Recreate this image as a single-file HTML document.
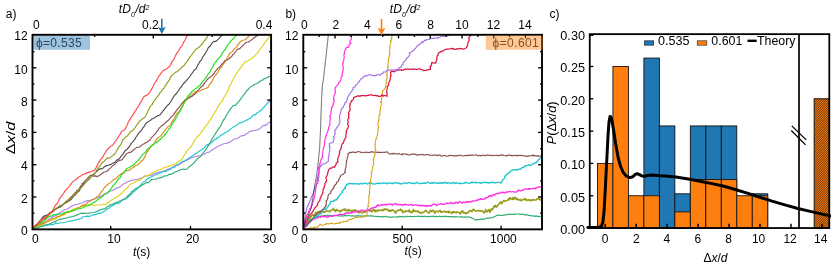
<!DOCTYPE html>
<html><head><meta charset="utf-8"><title>Figure</title>
<style>
html,body{margin:0;padding:0;background:#fff;}
body{width:831px;height:268px;overflow:hidden;font-family:"Liberation Sans",sans-serif;}
svg{display:block;opacity:0.999;will-change:transform;}
</style></head><body>
<svg width="831" height="268" viewBox="0 0 831 268">
<defs>
<clipPath id="ca"><rect x="33" y="35" width="238" height="194"/></clipPath>
<clipPath id="cb"><rect x="304" y="35" width="237.5" height="194"/></clipPath>
<pattern id="hatch" patternUnits="userSpaceOnUse" width="1.6" height="1.6" patternTransform="rotate(-45)"><rect width="1.6" height="1.6" fill="#ff7f0e"/><rect width="1.6" height="0.64" fill="#4a2404"/></pattern>
</defs>
<rect width="831" height="268" fill="#fff"/>
<polyline points="32.5,229.0 33.9,228.5 35.3,227.5 36.7,226.3 38.1,225.2 39.5,224.6 40.9,223.6 42.3,222.6 43.7,222.2 45.1,221.7 46.5,221.2 47.9,220.1 49.2,219.3 50.6,218.5 51.9,217.1 53.3,216.6 54.6,215.9 55.9,215.8 57.3,214.7 58.6,213.5 60.0,212.9 61.3,211.8 62.6,211.3 64.0,210.3 65.3,209.6 66.7,209.2 68.0,208.6 69.4,207.7 70.8,206.6 72.1,206.1 73.5,205.4 74.8,205.0 76.4,204.5 78.0,204.3 79.6,203.5 81.2,203.0 82.8,202.7 84.4,201.6 86.0,201.1 87.6,200.5 89.2,200.9 90.8,200.2 92.4,199.8 94.0,199.4 95.6,198.6 97.2,197.6 98.6,197.4 100.0,196.5 101.4,196.1 102.8,194.9 104.2,194.1 105.6,194.0 107.0,193.7 108.4,192.3 109.8,191.2 111.2,190.7 112.6,190.4 114.0,189.7 115.3,189.1 116.7,188.0 118.1,187.6 119.5,187.2 120.9,186.1 122.4,184.7 123.8,183.8 125.3,183.4 126.7,182.0 128.2,181.6 129.7,180.9 131.2,180.5 132.7,180.1 134.2,179.7 135.7,179.7 137.2,179.3 138.7,179.2 140.1,178.5 141.6,177.8 143.1,177.5 144.6,176.1 146.1,176.1 147.6,176.0 149.1,175.3 150.6,175.3 152.1,174.9 153.6,173.8 155.1,173.5 156.6,172.9 158.1,172.5 159.5,172.1 161.0,172.1 162.5,171.5 164.0,170.9 165.5,170.5 167.0,169.2 168.5,169.3 170.0,168.3 171.5,168.1 173.0,166.9 174.5,166.0 175.9,165.4 177.4,165.5 178.9,164.8 180.4,163.7 181.9,162.8 183.4,161.7 184.9,161.1 186.4,160.2 187.9,159.9 189.4,158.6 190.9,158.1 192.4,157.4 193.9,156.8 195.4,156.7 196.9,156.3 198.4,155.9 200.0,155.8 201.5,155.5 203.1,154.3 204.6,154.1 206.2,153.0 207.6,152.3 209.1,152.2 210.5,151.1 211.9,150.0 213.4,149.2 214.9,148.2 216.4,147.3 217.9,146.2 219.4,145.7 220.9,145.1 222.4,144.3 223.9,143.8 225.4,143.5 226.9,143.2 228.4,142.6 229.9,142.1 231.4,141.1 232.9,139.9 234.4,139.1 235.8,138.8 237.3,138.4 238.8,137.5 240.3,136.4 241.8,135.8 243.3,135.6 244.8,135.1 246.3,133.7 247.8,132.9 249.3,131.8 250.8,131.1 252.2,130.9 253.7,130.5 255.2,130.4 256.7,130.3 258.2,129.4 259.7,128.7 261.2,127.3 262.7,125.9 264.2,125.3 265.7,125.3 267.1,124.2 268.6,122.7 270.0,121.9 271.5,121.0" fill="none" stroke="#b583e6" stroke-width="1.15" stroke-linejoin="round" clip-path="url(#ca)" />
<polyline points="32.5,229.3 34.0,228.5 35.6,228.2 37.1,227.9 38.6,227.8 40.2,226.8 41.7,226.5 43.2,226.1 44.7,225.6 46.3,225.3 47.8,225.1 49.3,224.9 50.9,224.5 52.4,224.6 54.0,224.2 55.6,222.9 57.2,223.5 58.8,223.2 60.4,222.8 62.0,222.7 63.6,222.6 65.2,222.3 66.8,221.7 68.4,221.5 70.0,220.7 71.6,221.2 73.2,220.4 74.8,220.1 76.4,219.7 78.0,219.4 79.6,218.8 81.2,218.6 82.8,216.8 84.4,216.7 86.0,216.4 87.6,216.1 89.2,216.5 90.8,215.8 92.4,215.5 94.0,214.5 95.6,214.6 97.2,213.9 98.7,212.9 100.2,213.4 101.7,212.8 103.1,211.9 104.6,211.1 106.1,209.8 107.5,208.7 108.9,208.3 110.3,206.8 111.7,206.4 113.1,205.1 114.5,204.7 115.9,203.6 117.3,203.7 118.8,203.2 120.3,202.1 121.8,200.6 123.3,199.8 124.8,199.3 126.3,198.4 127.5,197.6 128.7,196.9 129.8,195.7 131.0,194.3 132.2,193.5 133.3,192.2 134.5,191.3 135.7,190.0 136.8,189.5 137.9,188.1 139.1,186.5 140.2,185.6 141.3,184.4 142.4,183.1 143.7,182.1 145.1,181.4 146.4,179.5 147.8,178.7 149.1,177.7 150.8,176.9 152.4,176.5 154.1,175.1 155.8,174.7 157.3,174.0 158.8,173.5 160.3,172.9 161.8,172.3 163.3,171.6 164.8,171.3 166.3,171.3 167.8,170.6 169.2,169.8 170.7,169.0 172.2,167.8 173.7,167.2 175.0,166.9 176.4,165.2 177.7,164.5 179.1,163.9 180.4,162.9 181.8,162.1 183.1,161.4 184.5,161.0 185.8,160.1 187.2,159.2 188.5,158.2 189.9,157.4 191.2,156.5 192.6,155.7 193.9,154.6 195.2,153.9 196.6,153.4 197.9,152.2 199.3,151.3 200.6,150.5 201.9,149.4 203.1,148.6 204.4,147.6 205.6,146.1 206.9,144.9 208.1,144.4 209.4,143.7 210.6,143.0 211.9,142.0 213.2,141.0 214.5,139.5 215.8,139.3 217.0,138.0 218.3,137.6 219.6,136.3 220.9,135.3 222.2,134.6 223.5,133.7 224.8,132.7 226.0,132.3 227.3,131.7 228.6,130.8 229.9,129.7 231.2,128.6 232.4,127.6 233.7,126.7 235.0,126.0 236.3,125.5 237.5,124.6 238.8,123.4 240.3,122.6 241.8,122.4 243.3,121.7 244.8,120.9 246.3,120.2 247.8,119.6 249.1,118.7 250.3,118.1 251.6,117.3 252.9,115.2 254.2,114.6 255.4,114.9 256.7,113.3 257.9,112.3 259.2,111.7 260.4,110.5 261.7,109.9 262.9,108.2 264.2,106.8 265.2,105.8 266.3,104.6 267.3,103.3 268.4,102.6 269.4,101.7 270.5,100.6 271.5,99.5" fill="none" stroke="#1fc4cf" stroke-width="1.15" stroke-linejoin="round" clip-path="url(#ca)" />
<polyline points="32.5,228.5 34.0,228.5 35.6,227.5 37.1,227.5 38.6,226.8 40.2,226.2 41.7,226.4 43.2,225.8 44.7,225.1 46.3,224.8 47.8,224.6 49.3,223.9 50.9,223.5 52.4,222.5 54.0,221.9 55.6,221.4 57.2,220.5 58.8,219.8 60.4,219.1 62.0,218.9 63.6,218.7 65.2,218.3 66.7,218.1 68.3,217.3 69.8,217.1 71.4,216.8 73.0,216.7 74.5,215.9 76.1,215.4 77.6,214.4 79.2,214.1 80.7,213.4 82.2,213.1 83.7,213.7 85.2,212.8 86.7,213.2 88.2,213.2 89.7,212.9 91.2,212.8 92.7,212.7 94.3,212.5 95.9,211.8 97.5,211.0 99.1,210.4 100.7,209.6 102.3,209.4 103.9,208.7 105.3,208.6 106.7,207.2 108.1,206.4 109.5,205.6 110.9,204.5 112.3,204.9 113.7,203.4 115.1,203.0 116.5,202.3 117.9,202.4 119.3,201.0 120.7,200.8 122.1,199.9 123.5,199.2 124.9,198.4 126.3,198.0 127.3,196.5 128.3,195.5 129.3,194.5 130.4,194.1 131.4,191.8 132.4,191.4 133.4,190.5 134.7,189.3 136.1,188.6 137.4,187.5 138.8,187.3 140.1,186.4 141.5,185.5 142.8,184.7 144.2,183.9 145.5,183.2 146.9,182.2 148.4,182.6 149.9,181.1 151.4,179.5 152.8,179.5 154.3,179.2 155.8,179.1 157.3,178.5 158.8,178.0 160.3,177.6 161.8,177.4 163.3,176.5 164.8,175.8 166.3,176.0 167.8,175.3 169.2,174.2 170.7,174.4 172.2,173.8 173.7,172.7 175.4,171.7 177.1,171.3 178.7,170.5 180.4,169.7 182.1,169.2 183.8,169.1 185.5,169.5 187.2,169.0 188.3,167.5 189.4,166.8 190.6,165.8 191.7,165.0 192.8,164.2 193.9,162.8 195.0,161.5 196.2,160.3 197.3,158.8 198.4,158.0 199.5,157.4 200.6,156.1 201.7,154.8 202.8,153.5 203.9,152.1 204.8,150.7 205.8,149.4 206.7,148.0 207.6,146.7 208.6,145.1 209.5,144.2 210.3,142.9 211.1,141.1 211.8,139.0 212.6,138.0 213.4,137.2 214.2,135.6 215.1,134.2 215.9,132.8 216.7,131.9 217.6,130.2 218.4,129.3 219.2,127.9 220.1,126.8 220.9,125.4 221.7,123.9 222.4,122.0 223.2,120.6 223.9,119.4 224.7,118.5 225.4,117.2 226.2,115.6 226.9,114.5 227.7,113.5 228.4,112.0 229.5,110.2 230.6,108.6 231.7,107.5 232.8,106.1 234.3,105.4 235.8,105.2 236.7,103.8 237.7,102.4 238.6,101.7 239.6,100.7 240.5,99.1 241.4,97.9 242.4,96.8 243.3,95.3 244.3,94.0 245.3,93.1 246.3,91.1 247.3,90.2 248.3,89.3 249.3,88.2 250.8,86.7 252.3,86.0 253.7,84.9 255.2,84.3 256.7,83.6 258.2,82.7 259.7,81.5 261.2,80.5 262.7,80.0 264.2,78.8 265.7,78.2 267.1,77.6 268.6,76.6 270.0,76.7 271.5,75.0" fill="none" stroke="#2fae74" stroke-width="1.15" stroke-linejoin="round" clip-path="url(#ca)" />
<polyline points="32.5,228.5 34.0,228.0 35.4,227.1 36.9,226.6 38.4,226.2 39.8,225.5 41.3,225.2 42.8,223.9 44.2,223.2 45.7,222.2 47.2,221.4 48.6,220.8 50.1,220.3 51.6,219.9 53.1,219.4 54.6,219.5 56.1,218.8 57.6,217.2 59.1,216.7 60.6,215.9 62.1,215.1 63.6,215.1 65.0,214.2 66.4,212.8 67.8,212.4 69.2,211.7 70.6,210.7 72.0,209.9 73.4,209.3 74.8,208.8 76.2,208.3 77.6,207.9 79.0,208.0 80.4,207.0 81.8,206.1 83.2,205.6 84.6,205.5 86.0,204.6 87.8,205.4 89.6,204.9 91.3,204.9 93.1,205.3 94.9,205.3 96.5,205.0 98.1,205.0 99.7,205.0 101.3,204.7 102.9,204.2 104.5,204.4 106.1,204.0 107.4,202.9 108.8,202.3 110.1,200.9 111.5,200.1 112.8,199.4 114.1,198.6 115.5,197.6 116.8,197.1 118.2,196.2 119.5,195.4 120.5,194.0 121.5,193.6 122.5,192.2 123.5,191.5 124.5,190.3 125.6,189.1 126.7,188.2 127.9,187.2 129.0,186.1 130.1,184.4 131.4,183.7 132.8,183.2 134.1,182.5 135.5,181.8 136.8,181.2 138.4,180.4 139.9,180.1 141.5,178.5 143.0,177.7 144.6,176.1 146.1,176.0 147.6,175.4 149.1,175.3 150.6,174.2 152.1,172.7 153.6,172.6 155.2,171.4 156.7,170.5 158.3,170.0 159.8,169.8 161.4,169.0 163.0,168.5 164.5,167.1 166.1,167.3 167.6,166.6 169.2,165.9 170.9,165.5 172.6,164.9 174.3,164.3 176.0,163.4 177.4,162.3 178.8,161.4 180.2,160.6 181.6,159.3 182.5,157.9 183.4,156.6 184.2,155.4 185.1,154.0 186.0,152.5 186.9,151.0 187.9,150.1 188.8,148.8 189.7,147.4 190.7,147.2 191.6,145.7 192.5,144.2 193.5,142.6 194.4,140.7 195.3,139.7 196.3,138.2 197.2,136.8 198.3,135.8 199.5,134.6 200.6,133.1 201.6,131.6 202.6,131.0 203.6,129.5 204.5,127.6 205.5,126.6 206.5,125.2 207.5,123.9 208.3,122.7 209.1,121.3 210.0,120.6 210.8,119.0 211.6,117.5 212.4,116.4 213.3,114.7 214.1,113.6 214.9,112.1 215.7,111.1 216.6,109.2 217.4,108.0 218.2,106.1 219.1,104.8 219.9,103.6 220.7,102.6 221.6,101.9 222.4,101.0 223.2,98.7 224.1,96.9 224.9,96.0 225.8,94.6 226.6,92.6 227.5,91.4 228.3,89.6 228.9,87.9 229.6,86.2 230.2,84.8 230.9,84.3 231.5,82.7 232.2,81.0 232.8,80.2 233.6,78.4 234.4,76.9 235.2,75.4 236.0,74.3 236.8,72.8 237.6,72.1 238.4,70.5 239.5,69.3 240.6,67.9 241.8,66.1 242.9,64.5 244.0,63.3 245.3,61.7 246.7,61.2 248.0,60.6 249.4,59.9 250.7,59.0 252.1,58.0 253.5,56.8 254.9,55.9 256.3,54.1 257.2,53.3 258.2,51.7 259.1,50.7 260.0,49.2 261.0,47.9 261.9,46.4 263.0,45.6 264.1,43.7 265.2,42.0 266.3,40.9 267.4,39.6 268.4,38.1 269.4,36.2 270.5,35.0" fill="none" stroke="#e0d21f" stroke-width="1.15" stroke-linejoin="round" clip-path="url(#ca)" />
<polyline points="32.5,228.1 33.9,227.2 35.3,227.1 36.7,225.7 38.1,225.4 39.5,224.2 40.9,224.4 42.3,223.9 43.7,223.8 45.1,222.8 46.5,222.3 47.9,221.5 49.3,220.5 50.7,220.0 52.1,218.9 53.5,218.3 54.9,218.0 56.3,217.3 57.7,216.5 59.1,216.6 60.5,215.7 62.0,214.7 63.4,214.2 64.8,213.3 66.2,212.6 67.7,212.0 69.1,212.2 70.5,211.4 71.9,210.7 73.4,210.2 74.8,210.1 76.3,208.9 77.8,207.8 79.3,207.9 80.8,206.3 82.2,205.4 83.7,204.9 85.2,204.9 86.7,203.5 88.2,201.8 89.5,201.5 90.8,200.6 92.1,199.8 93.3,199.3 94.6,198.6 95.9,197.8 97.2,196.8 98.2,196.1 99.2,195.2 100.2,193.6 101.2,192.0 102.1,191.0 103.1,189.8 104.1,188.0 105.1,186.7 106.1,185.9 107.4,184.8 108.7,183.7 110.0,182.9 111.2,181.9 112.5,180.9 113.8,179.3 115.1,179.2 116.4,178.1 117.7,176.5 119.0,175.8 120.3,174.7 121.6,173.5 122.9,172.7 124.0,172.2 125.1,170.8 127.0,170.6 128.8,170.5 130.7,169.2 132.1,168.0 133.4,167.5 134.8,166.0 136.1,165.2 137.5,165.1 138.6,164.2 139.7,163.1 140.9,161.1 142.0,160.9 143.1,159.8 143.9,158.4 144.8,156.9 145.6,154.7 146.4,152.9 147.3,151.3 148.3,150.9 149.2,149.1 150.2,147.7 151.3,146.4 152.4,145.3 153.6,144.1 154.7,142.8 155.8,140.9 156.9,138.7 158.0,138.0 159.2,137.1 160.3,136.4 161.4,135.1 162.5,133.5 163.6,132.4 164.7,130.5 165.9,129.0 167.0,127.6 168.1,126.6 169.0,126.2 170.0,125.0 170.9,123.8 171.8,122.3 172.8,120.9 173.7,119.3 174.6,117.8 175.6,115.7 176.5,114.3 177.4,112.9 178.4,112.3 179.3,111.3 180.1,110.2 180.8,109.1 181.6,107.2 182.3,106.0 183.1,104.9 183.8,103.0 184.9,102.0 186.0,100.6 187.2,98.7 188.3,97.8 189.4,96.4 190.8,95.5 192.2,94.3 193.6,93.4 195.0,91.5 196.7,92.0 198.3,91.8 200.0,90.9 201.7,89.9 203.3,89.3 204.9,88.8 206.5,88.1 208.1,87.4 209.0,85.2 209.9,83.7 210.8,83.1 211.7,81.9 212.6,79.9 213.4,78.5 214.2,77.0 215.0,75.7 215.8,75.1 216.6,73.8 217.4,73.0 218.2,71.7 219.1,69.7 220.1,68.3 221.0,68.0 221.9,66.3 222.9,64.6 223.8,63.8 224.6,62.5 225.4,61.1 226.2,60.3 227.0,58.2 227.8,57.2 228.6,55.5 229.4,53.9 230.5,52.8 231.6,52.3 232.8,51.2 233.9,49.4 235.0,48.2 235.9,47.7 236.8,46.7 237.7,44.8 238.6,44.4 239.5,42.6 240.9,41.2 242.3,40.5 243.7,40.0 245.1,39.7 246.5,38.7 247.9,37.1 249.3,35.7 250.7,34.6" fill="none" stroke="#d98e1f" stroke-width="1.15" stroke-linejoin="round" clip-path="url(#ca)" />
<polyline points="32.5,228.7 33.7,226.8 35.0,225.6 36.2,224.7 37.5,224.2 38.7,222.9 40.0,221.1 41.2,220.2 42.4,218.9 43.7,218.5 44.9,217.4 46.2,217.0 47.4,215.7 48.7,214.2 49.9,212.8 51.2,211.9 52.4,211.3 53.7,210.9 54.9,210.1 56.2,208.9 57.5,208.3 58.8,207.0 60.0,206.5 61.3,205.5 62.6,205.0 63.8,204.1 65.1,202.9 66.3,201.3 67.6,200.4 68.9,199.3 70.1,197.9 71.4,196.6 72.5,195.9 73.6,194.4 74.7,193.2 75.9,192.3 77.0,190.3 78.1,189.7 79.2,188.6 80.3,186.8 81.5,185.1 82.6,183.4 83.7,182.7 84.9,180.5 86.0,179.9 87.1,178.9 88.2,177.6 89.3,176.4 90.4,175.3 92.1,175.5 93.8,176.1 95.5,175.9 97.2,176.6 98.5,176.0 99.9,174.9 101.2,174.2 102.6,173.0 103.9,172.2 105.2,171.7 106.6,171.5 107.9,170.5 109.1,169.2 110.3,168.1 111.5,166.9 112.7,165.5 113.9,165.2 115.3,163.7 116.7,162.4 118.1,161.1 119.5,160.4 120.7,160.3 121.9,159.8 123.1,158.3 124.3,156.7 125.5,155.2 126.7,153.5 128.0,153.1 129.4,152.3 130.7,152.3 132.1,151.2 133.4,150.0 135.1,148.6 136.8,147.4 138.4,147.2 140.1,146.7 141.5,145.4 142.8,144.2 144.2,143.7 145.5,142.8 146.9,142.2 148.6,141.1 150.2,139.7 151.1,138.0 152.1,137.1 153.0,136.1 153.9,135.0 154.9,134.1 155.8,133.1 156.9,131.4 158.0,130.2 159.2,128.0 160.3,127.1 161.4,125.8 162.8,125.1 164.2,124.2 165.6,122.5 167.0,121.3 168.1,120.6 169.2,119.2 170.4,118.1 171.5,116.7 172.6,115.9 173.7,114.6 174.8,112.9 176.0,111.2 177.1,109.3 178.2,108.7 179.1,107.4 180.1,106.0 181.0,104.7 181.9,103.3 182.9,102.5 183.8,101.4 185.2,99.7 186.6,99.2 188.0,98.5 189.4,97.7 190.8,96.7 192.2,96.2 193.6,95.0 195.0,94.1 196.0,93.0 197.1,91.1 198.1,90.6 199.2,89.2 200.3,87.7 201.4,86.7 202.6,86.1 203.7,84.2 204.8,82.6 205.9,81.6 207.0,79.8 208.2,78.5 209.3,77.7 210.4,77.0 211.5,76.1 212.6,75.0 213.7,73.9 214.8,72.2 216.0,70.7 217.1,69.3 218.2,67.9 219.3,67.3 220.4,66.3 221.6,64.3 222.7,63.5 223.8,62.0 224.9,60.6 226.2,60.3 227.6,59.6 228.9,58.7 230.3,57.5 231.6,56.8 232.7,54.8 233.9,53.9 235.0,52.4 236.1,51.0 237.3,49.4 238.4,49.1 239.7,48.6 241.1,47.5 242.4,45.9 243.8,44.7 245.1,43.2 246.4,42.3 247.8,42.0 249.1,41.6 250.5,40.6 251.8,39.7 253.1,38.5 254.5,37.6 255.8,36.5 257.2,35.7 258.5,34.5" fill="none" stroke="#8a5050" stroke-width="1.15" stroke-linejoin="round" clip-path="url(#ca)" />
<polyline points="32.5,228.4 33.7,227.8 35.0,226.8 36.2,225.9 37.5,224.7 38.7,224.0 40.0,223.6 41.2,222.9 42.5,222.2 43.7,221.1 45.0,220.1 46.3,219.1 47.6,217.4 48.8,216.9 50.1,216.1 51.6,216.0 53.1,215.1 54.6,214.5 56.1,214.3 57.6,214.3 59.1,214.5 60.6,214.0 62.1,213.7 63.6,212.9 65.1,212.5 66.6,212.1 68.1,211.3 69.6,211.5 71.1,211.2 72.6,211.0 74.1,210.1 75.5,209.4 77.0,209.0 78.5,208.7 80.0,208.6 81.5,208.3 83.0,207.5 84.5,206.6 86.0,206.0 87.4,206.0 88.9,205.1 90.4,204.7 91.7,204.0 93.0,202.7 94.3,202.1 95.5,201.8 96.8,200.2 98.1,199.5 99.4,198.8 100.7,197.5 102.0,196.8 103.3,195.7 104.5,194.1 105.8,193.5 107.1,192.6 108.4,191.8 109.5,190.8 110.6,189.4 111.7,187.9 112.8,186.0 114.0,185.1 115.1,183.6 116.2,182.2 117.3,180.6 118.2,179.3 119.1,178.2 120.1,177.7 121.0,175.7 121.9,174.2 122.8,173.5 123.8,173.0 124.7,171.9 125.6,169.8 127.0,168.3 128.4,168.0 129.8,167.2 131.2,166.1 132.3,165.7 133.4,165.0 134.6,163.8 135.7,162.7 136.8,161.6 137.9,160.7 139.0,159.3 140.2,157.9 141.3,156.5 142.4,154.4 143.5,153.8 144.6,152.9 145.8,151.7 146.9,149.7 148.0,148.5 149.4,147.9 150.8,146.2 152.2,145.3 153.6,144.7 155.0,143.0 156.4,142.6 157.8,141.5 159.2,140.2 160.3,139.2 161.4,138.3 162.6,137.1 163.7,136.4 164.8,134.9 165.7,133.4 166.7,132.5 167.6,131.1 168.5,129.4 169.5,128.5 170.4,127.6 171.2,126.0 172.0,124.1 172.8,122.9 173.6,121.7 174.4,120.4 175.2,119.7 176.0,118.0 176.8,117.0 177.6,115.0 178.4,113.4 179.2,112.3 180.0,111.3 180.8,110.0 181.6,108.4 182.3,106.8 183.1,105.2 183.8,103.8 184.5,102.1 185.3,100.7 186.0,99.3 186.8,97.8 187.7,96.6 188.6,95.2 189.4,94.4 190.8,93.0 192.2,91.5 193.6,90.1 195.0,89.0 196.3,88.3 197.6,87.0 198.8,86.0 200.1,85.5 201.4,83.3 202.3,81.7 203.3,80.8 204.2,79.8 205.1,78.6 206.1,77.1 207.0,76.1 207.8,74.8 208.6,73.3 209.4,72.9 210.2,71.4 211.0,69.6 211.8,68.3 212.6,66.9 213.5,65.6 214.5,63.3 215.4,62.2 216.3,61.6 217.3,59.9 218.2,58.8 219.1,58.0 220.1,56.9 221.0,56.0 221.9,53.8 222.9,52.4 223.8,51.1 224.7,50.0 225.6,49.0 226.5,46.6 227.4,45.9 228.3,44.1 229.4,43.1 230.6,41.2 231.7,40.1 232.8,39.3 234.0,37.8 235.2,36.6 236.5,35.6 237.7,34.0" fill="none" stroke="#1fe01f" stroke-width="1.15" stroke-linejoin="round" clip-path="url(#ca)" />
<polyline points="32.5,228.6 33.6,228.3 34.7,227.2 35.8,226.0 36.9,224.7 38.0,223.4 39.0,222.2 40.1,220.8 41.2,219.3 42.3,217.8 43.4,216.4 44.7,215.9 45.9,215.4 47.2,215.2 48.5,214.3 49.7,213.3 51.0,212.6 52.2,211.5 53.5,209.9 54.8,209.6 56.0,208.6 57.3,207.9 58.5,207.0 59.8,207.2 61.1,206.4 62.3,205.3 63.6,203.7 64.9,203.4 66.3,202.2 67.6,202.0 69.0,200.6 70.3,200.1 71.4,199.2 72.5,197.6 73.6,196.4 74.8,195.2 75.9,194.3 77.0,192.7 78.1,191.7 79.1,191.1 80.1,188.9 81.1,187.4 82.1,186.4 83.1,184.9 84.1,183.3 85.1,182.8 86.1,181.9 87.1,180.9 88.4,179.9 89.7,178.7 91.0,177.0 92.3,175.0 93.6,174.3 94.9,173.0 96.0,172.1 97.2,171.2 98.3,169.6 99.9,168.9 101.4,168.9 103.0,168.2 104.5,166.6 106.1,165.9 107.7,165.3 109.2,164.9 110.8,164.4 112.3,163.6 113.9,162.7 115.3,161.9 116.7,160.1 118.1,159.6 119.5,158.5 120.6,156.9 121.8,155.4 122.9,154.3 124.0,152.4 125.2,150.5 126.3,149.8 127.3,149.3 128.2,147.9 129.2,146.6 130.1,145.3 131.1,143.6 132.0,142.6 133.0,141.6 133.9,140.3 134.8,139.4 135.7,137.6 136.6,136.5 137.4,135.0 138.3,133.7 139.2,132.7 140.1,131.6 141.1,130.6 142.0,129.4 143.0,127.5 144.0,126.8 145.0,124.8 145.9,123.6 146.9,122.5 148.2,121.6 149.6,120.9 150.9,120.0 152.3,118.7 153.6,118.2 154.9,117.5 156.3,116.5 157.6,115.9 159.0,115.3 160.3,114.8 161.2,113.2 162.2,112.1 163.1,110.7 164.0,110.0 165.0,108.4 165.9,107.5 167.0,105.9 168.1,104.8 169.3,104.0 170.4,102.0 171.5,100.5 172.4,98.7 173.4,97.2 174.3,95.8 175.2,94.7 176.2,93.8 177.1,92.7 178.0,91.2 179.0,90.0 179.9,88.2 180.8,87.4 181.8,86.1 182.7,84.6 183.7,83.3 184.6,82.5 185.7,81.3 186.8,80.2 187.9,78.7 189.1,77.4 190.2,76.0 191.3,74.2 192.2,73.1 193.0,72.0 193.8,70.6 194.7,69.8 195.6,69.3 196.4,68.2 197.2,66.6 198.1,64.6 198.9,63.3 199.7,61.8 200.5,60.7 201.3,59.9 202.1,58.5 202.9,56.6 203.7,55.9 204.6,54.3 205.5,53.2 206.3,51.1 207.2,50.4 208.1,48.0 209.2,46.9 210.3,46.0 211.5,43.8 212.6,42.7 213.7,41.3 215.1,41.5 216.5,40.9 217.9,39.6 219.3,38.3 220.3,36.7 221.4,35.9 222.4,34.6 223.4,34.0" fill="none" stroke="#4d4d4d" stroke-width="1.15" stroke-linejoin="round" clip-path="url(#ca)" />
<polyline points="32.5,228.2 33.7,227.4 34.9,227.0 36.1,226.4 37.3,225.6 38.5,224.3 39.7,223.3 40.9,222.1 42.1,220.6 43.3,219.6 44.5,219.2 45.7,218.3 47.0,217.0 48.2,215.5 49.5,214.5 50.8,213.3 52.1,212.3 53.3,211.5 54.6,209.5 55.9,208.9 57.2,207.6 58.5,206.6 59.7,205.6 61.0,205.4 62.3,204.7 63.6,203.9 64.9,202.6 66.3,201.2 67.6,200.4 69.0,199.8 70.3,198.9 71.4,198.0 72.5,196.5 73.6,195.8 74.8,194.5 75.9,193.7 77.0,192.1 78.1,190.4 79.2,188.9 80.4,188.1 81.5,187.3 82.6,186.0 83.7,184.9 84.9,183.5 86.0,182.2 87.1,181.0 88.2,179.3 89.3,178.2 90.5,177.4 91.6,176.5 92.7,175.8 93.8,174.6 95.0,173.2 96.1,171.6 97.2,169.4 98.1,168.4 99.0,166.9 99.8,166.1 100.7,164.8 101.6,163.5 103.0,162.2 104.4,161.1 105.8,159.5 107.2,158.1 108.6,158.1 110.0,157.6 111.4,156.6 112.8,155.7 113.7,154.3 114.7,154.3 115.6,152.8 116.5,151.2 117.5,149.4 118.4,147.3 119.2,146.3 119.9,145.7 120.7,144.6 121.4,143.2 122.2,141.5 122.9,139.8 124.0,138.9 125.1,137.7 126.3,136.3 127.4,136.0 128.5,134.4 129.6,133.2 130.7,131.3 131.9,131.2 133.0,130.0 134.1,128.9 135.0,127.8 136.0,126.1 136.9,124.7 137.8,123.7 138.8,122.1 139.7,121.1 140.8,120.4 141.9,119.4 143.1,118.6 144.2,117.6 145.3,116.7 146.1,115.1 146.8,113.6 147.6,111.7 148.3,110.3 149.1,108.8 149.8,107.6 150.6,106.0 151.3,105.0 152.1,104.7 152.8,102.8 153.6,101.6 154.7,100.4 155.8,98.6 157.0,97.2 158.1,95.7 159.2,94.6 160.0,92.8 160.8,92.3 161.6,90.8 162.5,89.6 163.5,88.8 164.4,87.5 165.3,85.8 166.3,84.4 167.2,82.9 168.1,81.6 169.1,80.5 170.0,78.3 170.9,76.6 171.9,75.5 172.8,74.6 174.2,73.4 175.6,72.3 177.0,71.7 178.4,70.7 179.8,69.4 181.2,68.0 182.6,66.4 184.0,65.6 184.9,64.4 185.9,62.8 186.8,61.8 187.7,60.4 188.7,59.1 189.6,57.3 190.5,56.5 191.5,55.0 192.4,53.9 193.3,52.7 194.3,51.2 195.2,49.9 196.7,48.8 198.2,47.7 199.7,46.7 200.8,45.2 201.9,44.2 203.1,42.8 204.2,41.0 205.3,40.0 206.3,38.3 207.3,37.0 208.3,34.7 209.3,34.0" fill="none" stroke="#9a9a1a" stroke-width="1.15" stroke-linejoin="round" clip-path="url(#ca)" />
<polyline points="32.5,228.2 33.6,227.1 34.7,226.0 35.8,225.0 36.9,224.4 38.0,222.7 39.0,221.8 40.1,220.8 41.2,219.6 42.3,218.8 43.4,217.9 44.7,217.9 46.0,216.7 47.3,215.6 48.5,214.8 49.8,213.2 51.1,212.1 52.4,211.4 53.1,209.9 53.9,208.2 54.6,206.8 55.4,205.2 56.1,204.5 56.9,203.6 57.6,203.0 58.4,201.1 59.1,199.4 60.1,197.9 61.0,196.8 62.0,195.4 62.9,194.3 63.9,192.8 64.8,191.0 65.8,190.4 66.9,188.9 68.0,188.0 69.2,186.5 70.3,185.2 71.4,183.3 72.5,182.0 73.7,181.1 74.8,180.2 76.1,179.3 77.3,178.5 78.6,177.1 79.9,176.5 81.2,175.6 82.4,174.7 83.7,174.2 85.3,173.6 86.9,172.9 88.4,172.4 90.0,171.9 91.6,171.5 93.2,170.7 94.9,169.7 95.7,168.4 96.4,167.2 97.2,165.5 98.1,163.8 99.0,162.1 99.8,160.9 100.7,159.4 101.6,158.6 102.5,157.1 103.4,155.8 104.3,154.1 105.2,152.8 106.1,151.1 107.2,149.6 108.3,148.8 109.4,147.4 110.6,146.3 111.7,145.8 112.8,145.2 113.7,143.7 114.7,142.1 115.6,141.1 116.5,140.0 117.5,138.7 118.4,136.9 119.2,135.3 120.1,134.4 121.0,132.5 121.8,131.2 123.4,130.5 125.1,129.6 125.8,127.6 126.6,126.0 127.3,124.5 128.1,122.6 128.8,121.3 129.6,119.7 130.5,118.7 131.4,117.0 132.3,115.6 133.2,114.3 134.1,113.1 134.9,111.1 135.6,110.5 136.4,109.2 137.1,108.1 137.9,107.3 138.7,105.7 139.5,104.3 140.3,102.8 141.1,101.6 141.9,100.2 142.7,98.9 143.5,97.2 145.0,95.9 146.5,95.4 148.0,94.2 149.2,92.8 150.4,91.3 151.6,89.1 152.3,87.9 153.1,86.4 153.8,84.9 154.5,83.2 155.3,82.4 156.0,81.4 156.8,79.8 157.6,78.3 158.4,77.0 159.2,75.6 160.0,74.8 160.8,73.3 161.6,72.5 163.0,70.8 164.3,69.6 165.7,69.5 167.0,68.6 168.4,67.1 169.2,67.0 170.0,65.9 170.8,64.5 171.6,62.2 172.4,61.5 173.2,60.3 174.0,58.9 174.8,57.4 175.6,55.4 176.4,53.8 177.1,52.9 177.9,51.9 178.7,50.7 179.5,49.2 180.3,47.9 181.1,46.7 181.9,46.1 182.7,44.4 183.5,42.4 184.3,41.4 185.1,39.9 185.9,38.1 186.8,36.3 187.7,35.3 188.5,34.0" fill="none" stroke="#ff4848" stroke-width="1.15" stroke-linejoin="round" clip-path="url(#ca)" />
<rect x="33.4" y="35.6" width="56.6" height="14.2" fill="#1f77b4" fill-opacity="0.44"/>
<text x="36.0" y="47.2" font-size="12" text-anchor="start" font-family="Liberation Sans, sans-serif" fill="#2b4860" letter-spacing="0.3" >&#981;=0.535</text>
<rect x="32.50" y="34.80" width="238.60" height="194.55" fill="none" stroke="#000" stroke-width="1.90"/>
<line x1="32.50" y1="213.15" x2="34.50" y2="213.15" stroke="#000" stroke-width="1.35"/>
<line x1="271.10" y1="213.15" x2="269.10" y2="213.15" stroke="#000" stroke-width="1.35"/>
<line x1="32.50" y1="197.00" x2="36.40" y2="197.00" stroke="#000" stroke-width="1.35"/>
<line x1="271.10" y1="197.00" x2="267.20" y2="197.00" stroke="#000" stroke-width="1.35"/>
<line x1="32.50" y1="180.85" x2="34.50" y2="180.85" stroke="#000" stroke-width="1.35"/>
<line x1="271.10" y1="180.85" x2="269.10" y2="180.85" stroke="#000" stroke-width="1.35"/>
<line x1="32.50" y1="164.70" x2="36.40" y2="164.70" stroke="#000" stroke-width="1.35"/>
<line x1="271.10" y1="164.70" x2="267.20" y2="164.70" stroke="#000" stroke-width="1.35"/>
<line x1="32.50" y1="148.55" x2="34.50" y2="148.55" stroke="#000" stroke-width="1.35"/>
<line x1="271.10" y1="148.55" x2="269.10" y2="148.55" stroke="#000" stroke-width="1.35"/>
<line x1="32.50" y1="132.40" x2="36.40" y2="132.40" stroke="#000" stroke-width="1.35"/>
<line x1="271.10" y1="132.40" x2="267.20" y2="132.40" stroke="#000" stroke-width="1.35"/>
<line x1="32.50" y1="116.25" x2="34.50" y2="116.25" stroke="#000" stroke-width="1.35"/>
<line x1="271.10" y1="116.25" x2="269.10" y2="116.25" stroke="#000" stroke-width="1.35"/>
<line x1="32.50" y1="100.10" x2="36.40" y2="100.10" stroke="#000" stroke-width="1.35"/>
<line x1="271.10" y1="100.10" x2="267.20" y2="100.10" stroke="#000" stroke-width="1.35"/>
<line x1="32.50" y1="83.95" x2="34.50" y2="83.95" stroke="#000" stroke-width="1.35"/>
<line x1="271.10" y1="83.95" x2="269.10" y2="83.95" stroke="#000" stroke-width="1.35"/>
<line x1="32.50" y1="67.80" x2="36.40" y2="67.80" stroke="#000" stroke-width="1.35"/>
<line x1="271.10" y1="67.80" x2="267.20" y2="67.80" stroke="#000" stroke-width="1.35"/>
<line x1="32.50" y1="51.65" x2="34.50" y2="51.65" stroke="#000" stroke-width="1.35"/>
<line x1="271.10" y1="51.65" x2="269.10" y2="51.65" stroke="#000" stroke-width="1.35"/>
<line x1="110.70" y1="229.35" x2="110.70" y2="225.95" stroke="#000" stroke-width="1.35"/>
<line x1="190.50" y1="229.35" x2="190.50" y2="225.95" stroke="#000" stroke-width="1.35"/>
<line x1="94.60" y1="34.80" x2="94.60" y2="37.00" stroke="#000" stroke-width="1.35"/>
<line x1="153.30" y1="34.80" x2="153.30" y2="38.40" stroke="#000" stroke-width="1.35"/>
<line x1="212.20" y1="34.80" x2="212.20" y2="37.00" stroke="#000" stroke-width="1.35"/>
<text x="27.6" y="235.3" font-size="12" text-anchor="end" font-family="Liberation Sans, sans-serif"  >0</text>
<text x="27.6" y="203.0" font-size="12" text-anchor="end" font-family="Liberation Sans, sans-serif"  >2</text>
<text x="27.6" y="170.3" font-size="12" text-anchor="end" font-family="Liberation Sans, sans-serif"  >4</text>
<text x="27.6" y="137.6" font-size="12" text-anchor="end" font-family="Liberation Sans, sans-serif"  >6</text>
<text x="27.6" y="105.5" font-size="12" text-anchor="end" font-family="Liberation Sans, sans-serif"  >8</text>
<text x="27.6" y="73.6" font-size="12" text-anchor="end" font-family="Liberation Sans, sans-serif"  >10</text>
<text x="27.6" y="40.2" font-size="12" text-anchor="end" font-family="Liberation Sans, sans-serif"  >12</text>
<text x="35.3" y="243.2" font-size="12" text-anchor="middle" font-family="Liberation Sans, sans-serif"  >0</text>
<text x="114.0" y="243.2" font-size="12" text-anchor="middle" font-family="Liberation Sans, sans-serif"  >10</text>
<text x="192.6" y="243.2" font-size="12" text-anchor="middle" font-family="Liberation Sans, sans-serif"  >20</text>
<text x="269.4" y="243.2" font-size="12" text-anchor="middle" font-family="Liberation Sans, sans-serif"  >30</text>
<text x="36.4" y="29.3" font-size="12" text-anchor="middle" font-family="Liberation Sans, sans-serif"  >0</text>
<text x="150.3" y="29.3" font-size="12" text-anchor="middle" font-family="Liberation Sans, sans-serif"  >0.2</text>
<text x="264.0" y="29.3" font-size="12" text-anchor="middle" font-family="Liberation Sans, sans-serif"  >0.4</text>
<text x="118.8" y="13.2" font-size="12" font-family="Liberation Sans, sans-serif" font-style="italic">tD<tspan font-size="7" dy="3.4" dx="0.2">0</tspan><tspan dy="-3.4" dx="0.5">/d</tspan><tspan font-size="7" dy="-3.6" dx="0.2">2</tspan></text>
<text x="5.8" y="17.6" font-size="12" text-anchor="start" font-family="Liberation Sans, sans-serif"  >a)</text>
<text x="133" y="255.8" font-size="12" font-family="Liberation Sans, sans-serif"><tspan font-style="italic">t</tspan>(s)</text>
<text transform="translate(15.2,138) rotate(-90) scale(1.3,1)" font-size="12.5" text-anchor="middle" font-family="Liberation Sans, sans-serif">&#916;<tspan font-style="italic">x</tspan>/<tspan font-style="italic">d</tspan></text>
<line x1="161.8" y1="18.8" x2="161.8" y2="31.0" stroke="#1f77b4" stroke-width="1.6"/>
<path d="M161.8 34.0 L157.8 26.8 L161.8 28.4 L165.8 26.8 Z" fill="#1f77b4"/>
<polyline points="303.9,228.5 303.7,227.8 304.0,227.1 304.4,226.5 305.3,226.0 306.0,225.6 306.3,224.8 307.2,223.8 307.6,223.1 308.1,222.5 307.8,221.4 309.1,221.1 309.1,220.0 309.6,219.9 310.3,219.5 311.1,219.4 311.6,219.0 313.0,218.7 313.5,218.3 314.4,217.6 314.9,217.4 315.4,216.5 316.1,216.5 316.7,216.6 318.2,216.5 318.9,216.3 319.5,216.5 320.4,216.0 320.7,216.2 321.6,216.0 322.1,216.2 322.8,215.9 324.0,215.5 325.0,215.4 325.4,215.3 327.0,215.5 327.6,215.4 328.6,215.7 329.6,215.6 330.0,215.3 330.5,215.5 331.6,215.5 332.6,215.6 333.3,215.3 334.5,215.5 335.0,215.8 335.5,215.7 336.2,215.6 337.1,215.4 338.6,215.8 339.2,215.8 340.2,215.8 340.9,215.9 341.5,215.8 342.6,216.3 343.5,215.8 344.2,215.7 345.0,215.7 345.6,215.7 346.6,215.9 347.7,215.5 347.8,215.3 348.9,215.5 349.6,215.7 350.5,216.0 351.6,215.9 353.0,215.8 353.5,216.1 354.1,216.0 355.0,216.1 355.4,215.8 355.9,216.1 357.3,215.8 358.3,215.6 359.8,216.0 360.2,216.2 361.2,215.8 362.2,216.1 362.6,216.3 362.9,216.0 364.1,216.0 364.9,215.8 366.1,216.1 366.6,215.8 367.0,215.7 368.2,216.0 368.9,215.9 370.2,215.9 370.6,215.9 371.6,215.8 371.6,215.9 372.7,216.1 373.6,216.1 374.6,216.2 375.6,216.5 376.5,216.6 377.1,216.5 377.4,216.4 379.1,216.6 379.3,216.5 380.1,216.5 380.4,216.7 382.0,216.9 382.1,216.8 383.6,216.6 384.1,216.6 385.0,216.7 385.8,216.4 387.0,216.8 387.7,217.0 388.4,216.7 389.4,217.2 389.7,217.1 390.7,217.2 391.4,217.4 392.2,217.1 393.0,216.9 393.9,217.0 395.4,217.0 396.1,217.1 397.2,216.8 396.9,216.7 398.0,216.8 399.2,216.6 399.3,216.4 400.1,216.6 401.3,216.6 402.5,216.7 403.2,216.4 403.9,217.0 405.0,217.0 405.4,216.8 405.9,216.2 406.8,216.6 407.7,216.4 408.6,216.5 409.5,216.5 410.8,216.4 411.1,216.6 411.8,216.7 412.4,216.7 413.1,216.5 414.1,216.4 414.6,216.3 415.2,216.5 416.2,216.5 417.0,216.5 417.9,215.9 418.5,216.3 419.3,216.6 420.1,216.3 420.8,216.4 422.0,216.3 422.5,216.7 423.9,216.4 424.4,216.4 425.2,216.4 426.1,216.5 427.1,216.7 427.2,216.8 428.9,216.7 429.9,216.4 430.1,216.3 430.3,216.3 431.0,216.3 431.7,216.6 433.5,216.2 434.2,216.3 434.7,216.9 435.5,216.3 436.2,216.4 436.7,216.5 437.7,216.7 439.1,216.5 439.6,216.1 440.5,216.6 441.2,216.7 442.2,216.8 442.5,216.4 443.4,216.3 443.5,216.3 444.7,216.3 445.8,216.6 446.5,216.2 447.0,216.6 447.8,216.5 449.0,216.6 450.1,216.5 450.7,216.6 451.9,216.7 452.3,216.6 453.0,216.9 454.4,216.9 455.1,216.8 455.9,216.7 456.2,216.5 456.4,216.7 458.2,217.0 458.8,217.0 459.8,216.8 461.0,216.8 461.8,216.8 462.0,216.8 463.2,217.1 463.9,217.1 464.6,217.1 465.6,216.9 466.4,217.1 467.0,217.0 467.9,217.0 468.3,216.8 469.0,217.0 470.1,217.3 471.3,217.6 471.9,218.2 473.0,218.4 473.1,218.5 473.5,219.0 474.7,219.3 475.4,220.0 476.0,219.9 476.9,219.9 477.8,219.5 478.8,219.5 479.7,219.7 480.3,219.0 480.7,219.3 481.0,219.2 482.0,219.3 482.9,219.1 484.0,219.3 484.4,219.0 485.1,218.7 486.2,218.0 487.6,218.1 488.2,218.3 489.2,218.2 490.0,217.8 490.9,217.8 491.9,217.7 492.7,217.5 493.7,217.2 494.1,216.7 494.9,216.5 495.5,216.3 496.3,215.6 497.1,215.3 497.6,215.4 498.5,215.2 499.8,215.2 500.1,215.2 501.1,215.5 502.0,215.4 503.9,215.1 504.4,214.8 504.7,214.9 505.7,215.0 506.4,214.9 506.7,214.7 507.8,214.4 508.8,214.4 509.9,214.3 510.5,214.1 511.0,214.0 511.9,214.5 512.6,214.4 513.0,214.3 513.9,214.2 514.9,214.3 515.7,214.0 516.4,214.0 517.0,214.2 517.4,214.0 519.1,214.0 520.0,214.5 520.9,214.4 521.5,214.5 521.8,214.2 522.9,214.2 523.4,214.6 524.6,214.7 525.6,215.2 526.6,214.8 527.6,215.0 528.5,215.4 529.2,215.3 530.3,215.5 530.9,215.9 532.3,216.0 532.6,215.7 533.6,216.0 534.3,216.1 535.0,216.4 535.4,216.1 536.1,215.9 537.0,216.1 537.5,216.6 538.6,216.3 539.7,216.5 540.7,216.8 541.5,216.5" fill="none" stroke="#2fae74" stroke-width="1.20" stroke-linejoin="round" clip-path="url(#cb)" />
<polyline points="303.6,227.9 303.9,227.3 304.2,228.7 304.5,226.4 304.8,224.5 305.1,224.9 305.5,224.4 305.8,224.2 306.1,222.7 306.4,223.3 306.7,222.3 307.1,223.2 307.6,221.4 308.1,220.3 308.5,220.5 308.9,219.7 309.4,217.8 309.8,218.2 310.3,216.6 310.8,217.4 311.2,215.7 311.9,215.8 312.5,214.7 313.2,215.0 313.9,215.7 314.5,215.5 315.2,213.7 315.9,212.4 316.6,213.5 317.2,212.4 317.9,211.8 318.6,212.8 319.3,211.3 320.0,212.5 320.7,213.0 321.4,212.1 322.1,211.0 322.7,211.2 323.4,212.5 324.1,211.7 324.8,212.3 325.5,211.3 326.2,211.0 326.9,210.9 327.6,210.9 328.3,211.0 329.0,211.4 329.8,211.8 330.5,210.8 331.2,209.9 331.9,209.9 332.6,209.7 333.3,208.7 334.1,210.1 334.8,209.8 335.5,211.8 336.2,210.4 336.9,209.3 337.6,210.5 338.4,210.5 339.1,211.2 339.8,210.7 340.5,212.0 341.2,210.2 341.9,210.5 342.7,210.1 343.4,209.9 344.1,208.9 344.8,210.5 345.5,209.1 346.2,210.4 346.9,210.8 347.6,210.9 348.3,209.3 349.0,210.9 349.7,210.1 350.4,210.8 351.1,210.4 351.8,212.2 352.5,210.6 353.2,210.5 353.9,211.0 354.6,209.7 355.3,210.2 356.0,210.5 356.7,211.0 357.4,210.7 358.1,212.4 358.8,212.9 359.5,212.5 360.2,211.4 360.9,211.7 361.6,213.0 362.3,213.1 363.0,212.2 363.7,211.1 364.4,212.2 365.1,212.2 365.8,211.6 366.5,211.4 367.2,210.3 367.9,209.9 368.6,209.9 369.3,211.1 370.0,211.2 370.7,210.5 371.4,210.6 372.1,211.9 372.8,210.1 373.5,210.2 374.3,209.5 375.0,211.8 375.7,210.4 376.4,211.5 377.1,211.2 377.8,209.9 378.5,210.5 379.2,210.3 379.9,210.4 380.6,210.1 381.3,210.5 382.0,210.6 382.7,209.5 383.4,210.5 384.1,209.6 384.8,208.9 385.5,209.6 386.2,209.3 386.9,209.5 387.7,209.2 388.4,210.8 389.1,211.2 389.8,210.1 390.5,211.5 391.2,210.7 391.9,210.0 392.6,209.7 393.3,210.8 394.0,210.7 394.7,210.9 395.5,213.2 396.2,212.2 396.9,211.1 397.6,210.1 398.4,210.4 399.1,210.3 399.8,210.3 400.5,209.0 401.3,210.7 402.0,210.1 402.7,212.7 403.5,211.4 404.2,212.0 404.9,211.7 405.6,210.8 406.4,211.4 407.1,211.0 407.8,211.0 408.5,211.3 409.3,209.9 410.0,212.2 410.7,212.2 411.4,211.6 412.1,212.7 412.8,211.1 413.5,209.5 414.2,211.3 414.9,210.9 415.6,211.5 416.3,211.3 417.0,211.5 417.7,210.9 418.4,211.6 419.1,212.4 419.8,212.3 420.5,213.4 421.2,212.8 421.9,212.5 422.6,212.3 423.3,212.6 424.0,212.1 424.7,211.1 425.4,211.0 426.1,210.4 426.8,211.5 427.5,212.1 428.2,212.5 428.9,213.1 429.6,211.9 430.3,210.2 431.0,210.9 431.7,211.6 432.4,210.2 433.1,210.4 433.8,210.5 434.5,213.0 435.2,212.9 435.9,211.4 436.6,211.1 437.3,211.5 438.0,211.7 438.7,211.7 439.4,210.5 440.1,210.4 440.8,212.2 441.5,211.5 442.2,212.1 442.9,211.4 443.6,211.4 444.3,211.5 445.0,211.1 445.7,212.2 446.4,212.3 447.1,211.6 447.8,211.6 448.5,212.8 449.2,211.1 449.9,212.1 450.6,212.7 451.3,213.2 452.0,213.3 452.7,211.5 453.4,212.4 454.1,211.7 454.8,212.5 455.5,212.2 456.2,212.7 456.9,211.7 457.6,212.1 458.3,212.5 459.0,212.7 459.7,213.0 460.4,213.9 461.1,211.8 461.9,212.1 462.6,210.7 463.3,212.2 464.0,213.3 464.8,212.4 465.5,213.0 466.2,213.8 466.9,212.6 467.7,212.7 468.4,212.7 469.1,211.3 469.8,210.6 470.6,211.0 471.3,210.7 472.0,211.8 472.7,209.7 473.5,209.3 474.2,209.4 474.9,211.0 475.6,211.0 476.4,211.0 477.1,210.8 477.8,210.7 478.5,210.3 479.2,211.0 479.9,210.8 480.7,211.2 481.4,210.9 482.1,211.0 482.8,210.9 483.5,212.5 484.2,212.9 484.9,212.2 485.6,209.6 486.3,210.9 487.0,211.9 487.8,211.3 488.5,209.5 489.2,210.0 489.9,212.5 490.6,210.8 491.2,208.9 491.8,209.1 492.4,209.8 493.0,208.9 493.6,207.3 494.3,205.8 494.9,206.9 495.5,205.4 496.1,206.8 496.7,207.0 497.3,206.0 497.9,205.2 498.4,204.6 499.0,204.0 499.5,203.1 500.1,202.4 500.6,201.9 501.2,203.5 501.8,203.8 502.3,202.1 502.9,201.8 503.4,200.7 504.0,200.5 504.7,201.3 505.5,201.1 506.2,200.9 507.0,200.5 507.7,200.3 508.5,198.9 509.2,199.6 510.0,197.6 510.7,198.5 511.4,199.1 512.1,199.3 512.9,197.6 513.6,199.6 514.3,198.4 515.0,197.2 515.8,198.9 516.5,199.4 517.2,198.4 517.9,199.8 518.6,199.9 519.4,200.1 520.1,199.2 520.8,200.7 521.5,200.5 522.2,200.1 522.9,199.3 523.7,199.4 524.4,199.7 525.1,198.5 525.8,199.0 526.5,200.8 527.2,200.1 527.9,199.9 528.7,199.6 529.4,200.5 530.1,200.8 530.8,200.2 531.5,199.5 532.2,200.2 532.9,200.5 533.7,199.6 534.4,199.9 535.1,199.9 535.8,200.1 536.5,199.6 537.2,198.8 537.9,199.1 538.6,198.7 539.4,198.8 540.1,200.0 540.8,199.8 541.5,198.7" fill="none" stroke="#9a9a1a" stroke-width="1.55" stroke-linejoin="round" clip-path="url(#cb)" />
<polyline points="303.9,228.7 304.6,228.2 304.6,226.9 304.7,226.0 305.4,226.0 305.6,224.8 305.8,224.7 306.6,223.6 307.7,223.7 307.8,222.8 308.7,221.9 309.8,221.8 310.6,221.7 310.7,220.7 311.5,220.4 312.5,219.8 312.9,218.9 313.6,218.5 314.2,218.9 315.4,218.9 315.8,218.4 316.5,217.9 316.9,217.6 317.6,218.0 318.9,216.9 320.0,216.7 320.4,217.4 321.7,216.7 322.1,216.1 322.8,216.2 323.7,217.0 325.1,216.1 325.7,216.6 326.7,217.3 327.2,217.1 328.4,216.7 328.9,216.7 329.8,215.9 330.8,216.1 331.7,216.4 332.4,216.2 333.1,215.9 333.9,216.0 334.7,215.5 335.0,215.4 336.1,215.4 337.3,215.1 338.2,215.2 338.2,215.2 339.2,214.2 339.8,214.2 340.8,214.5 341.3,214.4 341.6,214.7 342.6,214.6 343.7,214.4 345.1,214.0 345.1,213.4 345.4,213.0 346.4,212.8 347.4,213.0 348.0,213.0 349.1,212.9 350.8,213.0 351.7,212.8 352.0,212.0 352.3,212.7 353.5,212.0 354.2,212.2 355.3,211.7 356.0,212.0 357.2,211.4 357.6,211.6 358.4,211.4 358.7,211.1 359.7,211.0 360.6,210.3 361.3,210.1 362.9,210.2 363.1,210.7 363.9,210.9 365.0,210.9 366.0,210.8 366.4,210.1 367.3,210.0 368.8,210.1 369.8,209.6 370.3,209.3 370.8,208.4 371.4,208.6 372.1,207.9 373.1,208.2 374.1,207.4 374.5,207.1 375.4,207.5 376.1,206.9 377.1,205.3 377.0,206.2 377.9,204.8 379.1,205.7 379.7,205.8 380.7,205.1 381.9,204.6 382.5,205.2 383.7,204.7 383.7,204.8 384.0,204.4 384.8,204.8 386.1,204.5 386.5,204.9 387.5,204.7 387.8,204.2 389.1,204.1 390.3,204.2 390.6,203.9 391.2,204.3 392.3,205.3 393.5,203.9 394.1,204.1 394.9,204.1 396.1,203.7 396.8,204.7 397.7,204.3 398.5,204.9 399.3,204.7 400.3,204.2 401.1,205.1 401.9,205.2 403.0,204.4 403.2,205.0 404.3,204.7 404.7,204.8 405.3,204.3 406.7,204.6 407.4,204.9 408.1,204.8 409.1,205.1 410.4,204.6 410.9,204.7 411.7,204.3 412.2,205.3 412.9,205.6 414.3,205.0 415.0,204.7 416.3,204.9 416.8,205.4 417.7,205.3 418.7,205.2 419.6,205.9 420.7,205.4 421.7,205.7 422.1,206.1 423.3,205.4 423.9,205.6 425.0,206.2 426.0,205.7 426.3,205.5 426.9,206.5 427.3,206.0 427.6,205.7 429.1,205.7 429.7,205.5 430.7,206.1 431.7,205.4 432.3,204.8 433.1,204.4 434.2,203.9 435.1,204.3 435.8,204.7 436.4,205.5 437.6,205.1 438.1,204.6 439.5,204.1 440.3,204.1 440.8,203.5 441.6,204.1 442.2,204.1 443.1,204.4 444.1,204.4 444.9,203.8 445.4,203.8 446.1,203.6 447.1,203.0 448.2,203.3 448.7,203.5 449.9,203.0 450.0,202.8 450.8,202.2 451.4,203.3 452.3,203.6 453.0,202.9 454.5,203.5 455.4,202.7 456.0,202.0 456.6,202.4 456.8,202.6 457.9,203.4 458.7,202.0 459.4,201.5 460.5,202.3 461.8,202.6 462.3,203.0 463.2,202.0 464.4,202.5 465.2,202.1 466.2,202.6 467.0,201.5 467.6,202.0 467.7,201.7 469.0,201.7 469.1,201.9 470.4,202.0 470.9,201.9 471.6,201.4 472.6,201.0 473.1,200.9 474.8,201.1 475.4,200.7 476.0,200.3 476.6,200.0 477.6,200.6 478.1,199.6 478.5,199.4 479.9,199.6 480.4,198.7 481.1,198.7 481.6,199.1 482.9,198.9 483.8,199.5 485.0,198.8 485.5,197.7 486.1,198.1 487.2,197.7 488.1,197.3 488.3,196.8 488.7,195.9 489.8,196.1 490.3,195.6 491.5,196.5 492.6,195.0 493.5,194.8 494.6,195.2 495.1,194.7 495.3,194.2 496.8,193.6 497.0,193.6 497.1,193.4 498.1,193.7 498.9,193.5 500.6,192.4 500.9,192.7 501.6,192.4 502.1,192.5 503.2,192.2 503.7,192.9 505.0,192.6 505.5,192.9 506.1,191.9 507.5,192.1 507.9,192.0 509.0,191.6 509.7,191.5 510.5,191.7 511.1,191.8 512.4,191.7 513.4,191.6 514.1,191.9 515.1,192.2 515.8,192.1 517.0,191.7 517.9,191.3 518.0,190.0 519.2,190.3 519.6,190.5 520.4,191.0 521.1,190.4 522.0,190.1 523.2,190.3 524.8,189.0 525.3,189.1 526.1,189.0 527.1,189.2 528.0,189.2 528.6,188.8 529.2,189.4 529.3,188.4 529.9,188.7 531.0,188.9 531.9,188.5 533.1,188.4 533.4,188.5 534.3,188.6 535.2,188.8 535.9,187.7 537.0,187.7 537.7,187.2 539.2,186.9 539.8,187.1 540.7,187.0 541.5,187.0" fill="none" stroke="#ff2fe0" stroke-width="1.35" stroke-linejoin="round" clip-path="url(#cb)" />
<polyline points="303.6,228.8 303.7,227.8 304.7,227.2 305.2,226.3 306.3,225.2 306.7,225.0 307.3,224.7 307.8,224.0 308.5,223.3 309.3,223.0 310.1,222.3 310.1,221.5 311.2,220.4 311.5,219.5 312.5,219.4 312.8,218.3 313.3,218.0 314.4,217.8 315.9,217.7 315.7,217.7 316.3,216.1 317.3,215.6 318.1,215.5 318.7,214.8 319.2,214.4 319.3,213.9 320.4,213.6 321.0,213.9 321.5,211.9 322.1,211.3 322.9,210.3 324.1,209.5 324.9,208.8 325.7,209.2 326.4,209.2 326.8,208.7 327.2,207.1 328.2,206.6 328.4,205.5 329.3,204.8 330.1,204.1 330.2,203.6 330.2,202.8 330.8,201.3 332.4,201.3 333.2,201.5 333.6,201.2 333.8,200.2 334.5,200.7 335.6,199.9 336.2,199.4 337.0,199.8 337.4,198.5 338.1,197.5 338.4,197.1 338.6,196.2 339.6,195.5 340.2,194.5 340.7,193.7 341.0,193.4 342.0,193.2 342.1,192.7 342.4,190.9 343.0,190.5 343.5,189.9 344.1,189.1 344.6,188.0 344.7,187.8 345.3,188.5 345.3,187.0 346.0,185.9 346.4,185.3 346.5,184.6 347.0,184.2 348.4,184.0 349.5,183.3 349.8,183.8 350.6,183.4 352.1,183.8 352.5,183.5 352.5,183.5 353.7,183.8 355.2,183.6 355.7,183.6 356.4,184.0 357.3,183.8 358.2,183.7 358.7,183.8 359.6,184.2 360.8,183.7 361.7,183.4 362.7,184.0 363.6,183.5 363.9,183.5 364.8,183.2 366.0,183.1 366.7,183.7 367.6,184.0 368.9,183.4 369.3,182.8 369.7,182.5 370.0,182.9 371.0,183.4 371.6,183.4 372.5,183.9 373.0,183.8 374.0,184.1 374.9,184.0 376.0,183.5 377.4,183.4 377.8,183.2 378.6,183.6 379.2,183.0 380.0,183.4 380.5,183.7 381.2,183.5 382.1,183.2 383.8,182.9 384.6,183.1 385.7,183.3 385.7,183.0 386.2,183.4 386.9,183.8 388.1,183.3 388.9,182.8 389.3,183.1 389.9,183.1 391.5,183.1 392.2,183.6 392.8,183.3 393.9,183.5 394.4,182.7 395.4,182.5 396.2,182.9 397.2,183.3 398.1,183.2 399.0,182.9 399.0,183.4 400.0,183.8 401.0,183.7 401.8,183.9 402.5,183.5 403.6,183.3 404.3,182.8 405.2,182.7 406.0,183.3 406.6,183.6 407.4,183.1 408.4,182.7 409.0,182.6 409.7,182.9 410.6,183.0 411.9,183.4 412.4,183.4 413.9,183.5 414.3,183.0 414.9,183.5 416.0,183.1 416.9,182.7 417.6,182.5 417.9,182.8 418.3,183.2 419.3,183.3 419.9,183.5 421.5,183.6 422.2,183.0 424.0,183.4 424.0,183.2 424.5,183.2 424.9,182.9 425.4,183.5 425.9,183.1 427.3,182.2 428.5,182.1 428.9,182.6 429.4,183.1 430.9,183.3 431.7,182.6 432.5,183.4 433.6,182.7 434.2,182.9 435.0,182.4 435.3,182.8 436.1,183.1 437.3,183.3 437.6,182.8 438.8,183.4 439.9,182.9 440.6,183.1 441.1,182.8 441.9,183.4 442.9,183.0 443.6,182.5 445.2,182.8 445.6,182.2 445.7,182.4 447.2,183.5 447.7,183.0 448.5,182.8 449.4,182.7 450.3,183.3 450.6,183.4 451.4,183.7 452.1,182.8 453.1,183.1 454.0,182.5 455.0,183.5 455.6,183.0 456.2,183.0 456.9,182.8 457.7,183.1 459.1,183.5 460.3,183.1 460.8,183.5 461.8,183.7 462.4,183.6 463.6,183.1 464.2,182.8 464.6,183.1 465.8,182.3 467.1,182.9 467.4,183.1 468.4,183.2 469.3,183.3 470.2,183.2 470.9,182.6 471.4,182.2 472.0,182.8 472.7,182.1 474.0,182.7 475.0,182.8 475.6,181.9 476.3,182.6 476.9,182.8 478.2,182.7 479.5,182.3 479.9,182.5 480.5,183.4 481.5,183.2 482.1,182.6 482.8,182.5 483.9,182.3 484.2,182.5 485.4,182.4 486.0,182.1 487.1,182.9 487.9,182.7 489.3,182.8 489.9,183.1 490.2,182.4 490.7,182.5 491.6,182.5 492.3,182.4 492.9,182.0 494.3,183.0 495.2,182.9 495.6,182.7 496.0,182.6 496.7,182.5 498.1,182.3 498.9,182.3 499.8,182.6 500.7,183.0 501.3,183.0 502.0,181.7 502.0,181.4 502.4,179.8 502.7,179.8 503.9,179.1 504.2,178.4 504.8,177.6 504.8,176.1 505.8,175.7 506.0,175.9 506.1,175.2 506.9,174.2 507.7,173.5 508.3,173.0 508.8,173.0 509.5,172.5 510.2,171.7 510.5,171.0 511.2,170.7 512.5,170.1 513.3,169.5 513.5,169.6 514.1,169.8 515.5,169.6 516.3,169.9 516.4,169.8 517.5,170.1 518.4,169.2 519.0,169.4 520.6,168.9 521.3,169.1 521.3,168.3 522.2,167.5 523.5,167.4 524.0,167.0 524.2,166.4 524.8,166.3 525.4,165.7 526.2,165.6 527.8,165.3 528.5,165.0 528.8,164.5 529.2,165.1 530.8,165.3 531.8,164.4 532.7,163.9 533.5,163.8 534.2,163.3 535.0,163.0 536.1,162.8 536.5,162.2 537.1,161.5 537.6,161.0 538.0,160.5 538.9,159.3 539.6,159.2 539.6,158.9 540.6,158.4 540.7,157.8 541.5,156.8" fill="none" stroke="#1fc4cf" stroke-width="1.35" stroke-linejoin="round" clip-path="url(#cb)" />
<polyline points="303.4,229.0 303.9,228.0 305.0,227.0 305.4,226.5 306.5,226.2 307.1,225.7 307.8,224.7 307.7,224.3 308.5,223.4 308.7,222.5 309.5,221.8 310.0,221.3 311.0,221.0 311.6,220.7 311.4,220.0 312.5,219.2 312.8,218.7 313.4,218.0 313.9,217.2 314.0,216.2 314.7,215.2 315.0,215.7 316.2,214.8 316.9,214.1 317.7,213.6 318.2,212.9 318.9,212.5 319.4,212.1 320.4,212.0 320.6,211.2 321.4,210.4 322.0,210.1 322.5,209.8 322.9,209.4 323.7,208.6 324.6,207.3 325.5,206.7 325.6,206.2 326.0,205.0 326.4,204.7 326.2,203.3 326.3,202.6 326.3,201.3 326.2,200.6 326.7,200.7 327.2,199.8 327.5,198.9 327.7,198.3 328.0,197.4 327.9,196.6 328.1,195.8 328.6,194.8 329.1,194.0 330.0,193.5 330.6,193.3 330.9,192.0 331.1,190.6 331.6,190.0 332.4,189.7 332.3,189.2 333.5,188.4 333.9,187.9 333.4,187.3 334.1,186.4 334.5,185.4 335.2,185.1 335.6,184.4 336.4,183.7 336.6,183.0 336.8,182.0 337.5,181.7 338.5,181.2 338.9,179.9 338.7,179.4 339.3,178.7 339.9,177.7 340.2,176.7 340.4,176.6 340.6,176.0 341.3,175.0 342.3,174.5 343.3,174.2 344.3,173.1 344.7,172.6 345.7,172.0 345.0,171.4 345.0,170.4 345.3,169.6 345.3,169.0 345.5,168.1 346.0,167.2 346.1,166.5 345.9,165.9 346.1,165.4 346.2,164.6 346.4,163.8 346.3,162.5 346.8,161.3 346.4,160.4 346.7,160.2 347.0,159.4 347.2,158.0 347.3,157.7 347.9,156.2 348.0,155.5 348.2,154.6 347.9,153.7 348.4,153.4 349.1,153.1 349.9,152.2 350.8,152.6 351.5,152.4 352.4,152.1 353.4,152.1 354.5,152.4 355.1,152.6 355.5,152.4 356.5,152.4 357.5,151.6 358.8,151.7 359.5,151.8 360.5,152.1 361.2,152.7 362.0,152.3 362.6,152.2 363.0,152.3 364.1,152.5 364.9,152.4 365.9,152.3 366.5,152.1 367.1,152.4 368.0,152.5 368.9,152.4 369.8,152.5 370.4,152.1 371.1,152.2 371.5,151.6 372.9,152.0 374.4,152.5 374.7,152.2 375.5,152.2 376.7,152.3 377.7,152.3 378.1,152.4 378.9,151.9 379.0,152.1 379.9,152.5 381.3,152.3 381.9,152.4 383.0,152.2 383.6,152.2 384.8,152.4 385.1,152.1 385.5,152.1 386.7,151.9 387.2,151.8 388.0,153.0 388.9,153.6 390.0,153.9 390.8,153.8 391.7,154.0 392.3,153.5 392.9,153.9 393.4,153.2 394.5,153.6 394.8,153.6 395.9,154.0 397.1,154.0 397.9,154.1 399.0,153.5 399.5,153.7 400.2,154.2 401.1,154.3 402.0,154.9 402.6,153.7 403.4,153.9 404.5,154.0 405.3,154.2 405.4,154.1 406.4,154.4 407.2,154.2 407.7,154.7 408.8,154.7 409.2,155.1 410.3,154.8 411.1,154.2 412.0,154.1 412.9,154.4 413.5,153.8 414.5,154.0 415.9,154.8 415.9,154.4 416.8,155.0 417.4,155.2 418.2,154.9 418.8,154.6 420.5,154.7 421.1,154.6 422.2,154.2 422.9,154.7 423.7,154.8 423.9,155.3 425.2,155.0 425.5,154.7 426.0,154.6 427.5,154.7 427.9,154.8 429.1,154.9 429.6,155.3 430.6,155.1 431.6,155.2 432.5,155.3 433.7,155.4 434.0,154.9 434.7,155.0 436.0,155.0 436.6,155.5 437.4,155.4 438.2,155.4 438.5,155.1 439.8,155.0 440.5,155.6 441.7,156.0 442.6,155.8 442.8,156.0 443.8,155.6 444.2,155.5 445.1,155.5 445.9,156.1 446.4,156.3 447.8,156.0 448.4,155.7 449.0,155.9 449.6,155.2 450.9,155.4 451.7,155.5 452.8,155.6 453.4,156.0 453.8,155.9 455.1,155.7 455.8,156.0 456.4,155.6 457.2,155.8 457.9,156.0 458.0,155.7 459.4,155.3 460.7,155.1 461.1,155.7 462.7,155.7 463.5,156.0 464.4,155.8 465.0,155.5 465.3,155.4 466.0,155.5 466.6,155.8 467.6,155.2 469.1,155.4 470.0,155.4 470.3,154.9 471.3,155.1 472.0,155.2 472.5,155.1 473.8,155.3 474.8,155.0 474.8,155.0 475.6,154.7 477.0,155.2 477.8,155.8 478.7,155.5 479.9,155.4 480.6,155.8 481.2,155.8 482.2,155.4 483.2,155.1 483.9,155.3 484.9,155.9 485.4,155.5 486.4,155.0 487.4,155.0 488.0,155.5 488.7,155.3 489.1,155.3 490.0,155.1 490.7,155.0 491.4,155.7 492.5,155.6 493.5,155.4 494.5,155.5 495.1,155.5 495.6,155.5 496.3,155.4 497.6,155.4 498.2,155.8 498.8,155.4 499.7,155.4 500.7,155.1 501.9,154.8 502.8,155.3 503.4,155.1 504.0,155.5 504.9,155.7 506.1,155.5 506.7,156.1 507.7,155.3 508.5,155.0 509.8,155.1 510.5,155.5 511.3,155.4 512.2,156.0 513.1,155.5 512.9,155.5 513.9,155.2 514.4,155.5 515.7,155.6 516.3,155.8 516.8,155.2 517.4,155.6 517.7,155.7 519.1,155.4 520.5,155.2 521.8,155.6 522.5,155.6 522.8,155.6 523.5,155.7 524.7,155.7 525.0,155.6 525.8,156.4 527.2,156.4 527.8,156.3 528.8,155.7 529.4,156.0 530.8,155.7 531.9,155.7 532.5,154.9 533.2,155.4 533.2,155.8 533.9,155.8 534.8,155.4 534.9,155.7 535.7,155.9 536.6,155.9 537.5,156.1 538.4,155.9 539.7,156.3 540.8,156.1 541.5,156.1" fill="none" stroke="#87504e" stroke-width="1.15" stroke-linejoin="round" clip-path="url(#cb)" />
<polyline points="303.4,229.6 303.6,229.5 305.4,228.9 306.3,228.8 307.5,228.4 308.4,228.9 309.1,228.5 309.9,228.1 310.7,227.4 311.3,228.1 312.0,228.4 312.7,228.5 313.6,227.4 314.0,228.4 315.0,227.2 315.6,227.0 316.2,227.2 317.4,227.0 318.7,225.8 319.5,224.9 319.9,224.6 320.9,224.3 321.7,225.3 322.5,225.4 323.7,225.1 324.7,224.5 325.5,224.3 326.3,223.3 326.4,224.1 327.4,223.8 328.5,223.8 329.1,224.0 329.7,223.7 330.4,223.1 331.4,223.4 332.2,223.3 333.1,223.9 334.7,223.8 335.3,223.6 335.3,223.9 336.4,223.3 337.1,223.5 338.2,223.2 338.9,223.1 340.0,223.1 339.8,222.2 341.5,222.3 342.9,222.0 343.5,221.3 343.8,221.7 344.7,221.4 346.0,221.5 346.2,221.0 347.3,221.2 347.6,221.0 348.2,220.2 349.5,219.5 350.8,219.5 351.9,218.7 352.6,218.6 353.3,218.6 353.3,218.3 354.3,218.2 354.8,217.8 356.4,217.2 356.8,217.3 357.4,217.6 358.4,217.0 359.3,217.1 359.9,217.3 360.8,216.9 361.6,216.8 362.5,217.1 363.0,217.3 363.8,216.9 364.9,216.1 365.3,215.8 366.4,215.6 367.0,215.7 367.0,214.1 367.0,212.8 367.4,211.5 367.4,211.1 367.1,210.5 367.6,210.3 367.7,209.9 367.5,208.5 368.1,206.6 368.4,206.3 368.5,206.2 368.0,205.0 368.1,204.6 368.5,203.8 369.0,202.4 369.1,202.0 368.8,201.6 368.8,200.1 369.0,199.3 368.8,198.7 369.0,198.6 368.6,197.3 368.8,196.0 369.2,195.4 369.4,194.3 369.6,193.5 369.6,194.1 369.4,193.1 369.5,191.7 369.3,191.2 369.6,190.2 369.9,189.4 369.7,189.4 370.1,188.0 369.7,186.2 369.7,185.7 370.2,185.6 370.0,184.5 370.0,183.4 370.7,183.0 370.9,182.2 370.4,181.4 370.5,180.1 370.9,179.1 370.7,178.0 371.3,177.0 371.3,176.3 371.4,175.1 371.1,174.4 371.1,174.3 371.3,173.6 371.6,172.5 372.0,171.8 371.8,171.3 372.2,170.4 371.9,170.2 372.5,169.3 372.9,168.2 372.5,167.6 372.5,167.1 373.3,165.6 373.5,165.2 373.4,164.0 373.8,163.1 373.8,162.5 373.2,160.8 373.0,159.4 373.5,159.2 374.0,159.1 373.7,158.8 373.9,158.3 373.8,157.0 374.5,156.3 375.1,155.1 374.7,154.4 374.9,153.8 374.9,153.1 374.7,152.9 375.1,150.8 376.1,150.7 375.4,149.2 375.3,148.6 375.2,147.3 374.8,146.7 375.0,146.2 375.1,145.4 375.0,144.9 375.3,144.4 375.0,143.7 375.3,142.9 375.3,141.4 375.8,139.9 376.3,139.6 376.1,138.3 376.4,137.9 376.7,137.4 377.2,136.0 377.2,135.6 377.7,134.0 377.4,133.7 378.0,132.8 378.1,132.1 378.0,131.5 378.0,130.1 377.6,129.5 378.1,128.8 378.3,128.0 378.9,127.7 378.1,126.8 378.0,125.6 377.9,124.7 377.9,124.0 378.2,123.0 378.2,122.6 378.4,121.3 378.5,120.3 379.3,119.8 378.7,118.7 379.0,118.4 379.1,117.3 378.8,116.1 379.2,115.5 379.2,114.7 379.9,114.3 380.1,113.0 379.8,112.0 379.7,111.4 380.2,110.8 380.0,110.2 380.3,109.5 380.5,108.4 380.6,107.2 380.6,106.9 380.8,106.1 381.2,104.7 381.3,104.5 381.4,103.0 380.8,101.2 380.4,102.0 380.7,101.3 381.5,101.3 381.6,100.0 381.4,98.6 381.9,98.1 382.1,96.8 382.3,96.0 382.1,95.1 381.6,95.2 382.3,94.6 382.3,93.2 382.5,91.9 382.6,91.4 383.1,90.4 383.6,89.9 384.2,89.4 385.0,88.0 385.4,86.9 386.2,87.0 385.8,85.3 386.0,85.1 386.0,83.4 386.0,83.5 386.3,82.4 386.4,82.0 386.2,81.1 386.1,80.5 386.5,79.7 386.9,79.1 387.2,78.0 387.1,76.6 387.3,76.6 387.4,75.7 386.9,75.8 386.9,73.8 387.0,72.4 387.1,72.3 387.2,71.9 387.6,70.5 387.6,69.5 388.1,68.4 387.7,67.3 387.6,66.7 388.0,66.6 388.3,66.0 388.2,65.1 387.8,64.4 388.0,63.8 388.3,62.5 388.3,61.6 388.6,61.0 388.5,60.9 388.3,59.2 389.0,58.2 388.8,57.8 389.1,57.0 389.2,55.7 389.6,54.8 389.2,54.7 389.6,53.4 390.1,53.1 389.9,52.5 389.3,51.4 389.6,51.0 389.9,49.1 390.0,48.8 389.9,48.0 389.7,47.4 390.0,46.1 390.1,45.1 390.2,44.5 390.6,44.0 390.9,42.4 390.9,41.9 390.4,41.1 390.9,40.8 391.8,39.7 391.2,38.6 392.0,37.8 391.6,37.2 392.2,35.8 392.4,35.2 392.8,34.4 392.7,34.0" fill="none" stroke="#d4a017" stroke-width="1.05" stroke-linejoin="round" clip-path="url(#cb)" />
<polyline points="303.0,228.2 303.7,228.3 304.0,227.1 304.0,226.4 305.3,225.7 305.7,224.4 305.4,223.3 305.5,222.7 306.0,221.8 306.8,221.1 307.1,220.7 307.1,219.8 307.5,218.9 307.7,218.1 308.6,217.6 309.0,216.5 309.1,215.7 309.6,215.1 310.2,214.8 310.9,214.1 311.0,213.6 311.6,213.0 312.4,212.6 312.4,212.1 312.9,211.4 313.6,210.1 314.1,209.3 314.8,208.4 314.9,207.7 315.7,207.3 316.3,206.3 316.9,205.8 317.5,205.5 317.5,204.6 317.6,203.7 318.0,203.1 318.1,202.5 318.9,201.7 319.9,200.6 319.9,199.8 319.9,199.0 320.1,198.5 320.7,197.9 321.0,196.6 321.2,195.9 321.6,195.2 321.8,194.9 322.3,193.9 322.4,193.1 323.1,192.6 323.1,191.2 323.1,190.9 322.9,190.2 323.1,189.5 323.5,188.6 324.3,188.0 324.2,186.6 324.5,186.0 324.9,185.3 324.8,184.5 324.7,183.8 325.4,182.7 325.4,182.4 325.8,182.2 326.6,180.9 326.5,179.7 326.3,179.2 326.3,178.5 325.8,177.7 326.2,177.0 326.6,176.4 327.2,175.2 327.6,174.7 327.7,173.2 327.6,172.8 327.9,172.3 328.2,171.6 328.5,170.2 328.9,169.5 329.5,168.7 330.1,168.2 331.3,168.0 331.7,168.1 332.3,167.5 333.4,166.8 333.9,166.7 334.5,167.3 335.2,166.2 335.4,165.3 336.2,164.5 336.2,163.0 337.1,162.5 338.1,162.0 337.5,161.7 337.8,160.5 337.7,159.6 337.6,158.9 338.1,158.0 338.2,157.0 338.8,155.8 339.0,155.3 339.1,154.4 339.6,153.5 339.7,152.9 339.3,152.2 339.7,151.0 339.8,150.7 340.6,149.9 340.8,148.5 341.4,147.7 341.6,147.5 341.5,146.9 341.2,146.3 341.9,144.7 342.2,143.9 343.1,142.9 343.6,143.1 343.7,142.2 343.9,140.8 344.4,139.8 345.0,138.9 345.6,137.8 345.8,137.4 346.1,136.9 345.9,136.3 345.9,134.6 346.1,134.0 346.2,132.8 346.6,132.7 346.2,131.3 346.5,130.6 346.8,129.9 347.2,129.0 347.9,128.2 348.0,127.9 348.3,127.0 348.2,126.1 348.3,125.3 347.6,124.1 347.7,123.3 348.3,122.5 348.1,121.7 348.2,121.5 347.8,120.8 347.9,119.8 348.2,118.7 349.1,118.1 348.6,117.5 348.7,116.8 348.5,116.0 349.1,114.1 348.6,113.9 348.6,112.9 348.5,112.5 349.3,111.4 349.5,110.5 350.0,110.5 350.1,109.0 350.3,108.5 349.9,108.0 349.7,106.7 350.0,105.9 350.4,105.5 349.9,104.9 350.0,103.7 350.9,102.8 351.2,102.0 351.3,100.7 352.3,100.7 353.1,99.5 353.6,98.2 353.6,97.7 354.0,97.4 354.8,97.3 355.8,96.4 356.9,96.3 358.0,95.7 358.9,96.3 359.9,95.9 360.2,96.3 361.2,95.6 362.0,95.7 362.7,95.6 363.4,95.5 364.8,95.6 365.8,95.9 366.3,96.0 367.1,95.5 368.3,95.2 369.0,95.3 369.6,95.0 370.4,94.8 371.0,94.9 371.7,94.8 372.4,95.2 373.5,95.5 374.0,95.6 375.3,95.3 376.1,95.6 376.7,95.9 377.4,95.6 378.8,96.4 379.7,96.4 380.6,96.3 381.2,95.7 382.4,94.8 382.7,94.9 383.5,96.2 384.4,95.5 385.3,95.5 386.5,95.8 387.1,96.4 386.9,95.7 387.2,94.5 387.1,93.6 387.1,93.1 386.7,92.4 386.7,90.9 386.9,90.7 387.0,89.7 387.1,89.1 387.4,87.9 387.3,86.7 387.6,86.2 388.7,85.3 388.7,84.8 388.6,83.7 388.2,83.2 389.2,82.4 389.6,81.8 389.7,81.0 389.9,80.1 390.2,79.8 390.3,78.5 390.2,78.5 390.5,77.1 391.1,75.8 390.6,75.7 390.9,74.3 390.6,73.2 390.6,72.4 391.4,71.4 392.5,71.4 393.6,71.6 394.4,71.9 395.6,70.9 396.1,70.5 396.7,70.6 397.1,69.9 397.9,70.3 398.9,69.7 399.9,69.9 401.3,69.5 401.4,70.3 402.2,70.4 403.3,70.1 403.8,69.5 404.7,69.1 405.4,69.2 406.3,69.2 406.8,69.3 407.6,69.2 408.6,69.2 409.1,69.2 410.6,69.3 411.1,69.1 412.6,69.0 413.6,69.5 413.6,68.8 413.9,69.4 415.5,69.0 416.6,69.4 416.7,69.6 418.0,69.2 418.8,69.0 418.9,69.0 419.9,68.6 421.1,69.6 421.6,69.5 422.5,70.0 423.4,70.2 423.9,70.8 424.7,70.5 425.7,70.5 426.4,70.1 427.3,69.8 428.5,69.8 429.3,69.4 430.5,69.3 430.4,67.4 430.2,67.0 430.2,66.4 431.2,66.1 431.1,65.4 431.7,64.3 431.6,62.7 432.3,62.5 433.4,62.9 434.4,63.2 435.6,63.1 436.0,62.3 436.1,61.0 436.4,60.8 437.0,59.4 436.6,58.6 436.9,58.3 437.0,56.9 437.1,56.4 437.3,55.8 438.3,55.1 438.1,53.9 438.7,52.8 439.2,52.4 439.9,52.4 440.3,51.9 441.3,51.4 441.9,51.1 442.4,51.3 443.2,50.7 444.2,49.9 445.2,49.6 446.3,49.2 446.7,49.2 447.9,49.2 448.7,49.0 449.6,48.8 450.8,48.8 451.7,48.6 452.7,48.4 452.9,48.9 453.3,48.5 454.1,49.3 455.5,49.4 456.3,49.0 457.0,48.6 458.0,49.1 458.6,49.0 459.2,48.7 460.6,48.4 461.1,48.7 462.3,48.9 462.7,48.9 463.2,49.1 464.5,48.8 465.2,48.5 466.4,47.7 466.6,47.4 466.7,47.3 467.2,46.0 467.7,45.0 467.7,44.1 468.0,43.3 468.1,42.3 468.3,41.4 469.1,40.7 469.2,39.4 469.2,39.2 468.7,38.1 468.6,37.7 469.8,36.5 470.5,35.9 470.8,34.7 470.6,34.0" fill="none" stroke="#dc143c" stroke-width="1.20" stroke-linejoin="round" clip-path="url(#cb)" />
<polyline points="304.0,228.4 303.8,228.1 303.9,226.6 304.8,226.8 304.3,225.4 304.0,223.9 304.1,223.5 304.5,222.5 304.2,220.9 304.3,220.5 304.7,219.8 305.2,219.3 305.4,218.6 305.7,217.7 305.5,217.0 305.4,215.8 305.9,215.0 305.4,214.4 305.2,213.5 305.5,212.7 306.4,211.9 306.2,210.6 306.2,210.7 306.7,210.2 306.6,208.6 307.3,207.1 307.4,207.0 308.2,205.9 308.2,204.8 308.6,203.9 308.5,203.3 308.8,203.7 309.5,202.8 309.6,201.6 310.1,200.5 311.0,199.2 310.8,198.5 310.9,198.8 311.0,198.2 311.2,197.6 312.1,195.8 312.6,194.3 312.8,194.4 313.2,193.2 313.5,192.5 313.7,191.7 314.0,190.6 314.1,190.2 314.7,190.0 314.6,189.2 314.7,187.7 315.1,186.7 315.8,186.9 315.3,186.2 316.0,185.3 316.4,184.7 316.9,183.9 317.9,183.2 317.7,182.2 317.7,181.6 318.8,180.7 318.5,179.6 318.3,178.3 318.5,177.9 319.0,177.3 318.7,175.9 318.9,174.9 319.3,173.7 318.5,173.6 318.6,172.2 318.6,171.8 318.7,170.9 319.0,170.1 319.4,168.9 319.8,167.7 319.7,167.2 320.2,166.3 320.5,166.1 321.3,166.3 322.0,164.7 322.7,164.1 323.9,163.7 324.5,163.6 325.6,163.2 326.5,162.7 326.9,162.2 328.1,161.6 328.5,160.8 328.3,159.8 328.6,158.4 328.2,157.9 328.5,157.0 328.7,156.6 328.7,155.9 329.4,155.8 329.1,154.6 329.1,153.3 329.4,152.1 329.6,151.5 329.7,150.9 329.7,150.2 329.7,148.9 329.6,147.5 329.8,146.4 330.2,146.4 329.3,146.1 329.4,144.9 329.3,143.8 330.6,142.9 331.4,142.7 332.7,142.6 333.2,142.2 333.1,141.4 333.7,140.1 333.7,139.7 334.1,139.1 333.9,138.1 334.1,137.1 333.6,136.8 334.0,136.0 334.2,135.7 334.9,134.4 335.2,133.6 335.0,132.6 334.7,131.3 335.1,130.9 334.8,130.2 336.1,129.2 336.3,128.5 336.4,127.8 337.3,126.8 337.6,127.0 338.1,125.6 338.7,124.9 339.1,124.3 339.3,123.1 339.5,123.3 340.0,122.3 339.8,120.8 339.7,120.0 339.6,120.0 339.6,119.4 339.8,117.8 339.3,117.2 339.4,116.3 340.0,115.3 340.1,114.7 340.3,113.6 340.8,112.8 340.6,111.9 340.9,111.2 341.2,110.6 341.3,109.7 341.4,108.8 341.5,108.2 342.8,107.7 343.1,107.6 343.6,105.8 344.5,105.1 344.9,104.1 344.7,102.9 345.3,102.3 345.7,102.3 346.1,101.9 346.6,101.9 346.9,99.8 347.3,99.7 347.6,98.8 347.2,98.1 347.8,97.3 348.4,96.0 349.0,94.8 349.6,94.4 349.8,94.4 350.0,93.3 350.5,92.5 351.3,92.0 351.8,91.1 352.1,90.6 352.2,90.1 353.2,89.3 353.0,87.6 353.9,87.0 355.0,86.9 355.4,86.3 355.4,85.2 356.4,84.9 356.8,84.6 357.4,84.1 358.1,82.7 358.5,82.4 359.3,81.5 359.8,80.2 360.3,79.9 361.2,79.0 361.5,78.6 362.7,77.9 363.2,77.6 363.6,76.5 364.5,75.9 365.0,75.8 365.5,75.9 366.3,76.2 366.8,75.6 367.7,75.5 368.4,75.0 369.0,75.0 369.5,74.3 370.7,74.8 371.9,75.4 372.5,75.7 373.9,75.4 374.5,75.5 374.8,75.9 375.8,75.4 376.6,75.4 377.4,74.7 378.5,74.8 379.4,74.7 380.0,75.3 380.8,74.2 382.1,73.2 382.2,73.4 383.3,72.9 383.5,71.9 384.9,72.0 385.5,72.0 386.3,71.5 386.5,70.7 386.9,70.5 388.0,70.0 388.9,69.9 390.4,70.3 391.6,69.7 392.0,70.3 392.8,69.9 393.8,70.1 394.9,69.9 396.0,69.5 396.8,70.3 397.8,69.5 398.7,68.2 399.2,67.8 400.1,67.2 400.6,67.4 401.1,67.1 401.3,66.3 401.7,65.0 402.4,64.8 403.3,64.4 403.0,63.2 403.5,62.1 404.1,62.0 404.7,61.0 404.9,60.6 405.3,60.3 406.0,59.7 406.6,58.8 406.4,58.0 407.2,58.0 407.7,57.4 408.6,56.5 408.9,55.7 409.3,55.3 409.9,54.6 409.1,53.1 409.9,52.8 410.9,52.3 411.5,51.6 412.6,51.4 413.0,50.4 413.8,50.1 414.6,49.1 415.6,48.6 416.1,47.5 416.6,46.5 417.5,45.9 418.0,45.0 418.3,44.9 419.3,44.5 419.4,44.8 420.3,43.6 421.2,43.0 421.3,42.5 421.9,41.8 422.7,43.0 423.1,41.8 424.4,40.8 425.0,40.0 425.9,40.6 426.3,39.7 426.7,39.8 428.1,39.3 428.8,39.2 429.8,39.4 430.6,38.8 431.3,38.2 432.4,38.4 434.1,38.4 434.7,38.0 435.3,38.0 436.8,37.7 437.3,38.1 437.6,38.4 438.5,37.4 439.0,37.5 440.2,37.0 440.8,36.7 441.5,36.5 441.7,36.2 443.1,36.3 444.4,36.4 445.1,36.0 446.1,36.0 447.5,35.9 448.5,35.2 449.2,35.4 450.1,34.3 450.4,34.0" fill="none" stroke="#a374e6" stroke-width="1.15" stroke-linejoin="round" clip-path="url(#cb)" />
<polyline points="304.0,228.7 303.8,227.9 304.2,226.9 304.4,226.2 305.0,225.4 305.0,224.6 304.7,224.2 305.0,223.2 305.1,222.4 305.0,221.1 305.2,220.3 305.0,219.5 305.6,218.5 305.0,217.8 305.8,217.3 306.0,216.5 306.6,216.4 307.2,214.6 307.5,214.1 308.3,212.8 308.8,212.4 308.7,211.5 308.8,210.9 309.1,210.0 309.7,209.8 309.5,209.0 310.5,208.2 311.3,207.6 311.0,206.2 311.7,205.8 312.3,205.5 312.3,204.3 312.1,203.4 312.8,202.2 312.6,201.5 313.3,200.8 313.6,199.9 314.0,199.4 314.0,198.8 314.2,197.7 314.2,197.1 314.9,196.0 314.7,195.3 314.9,194.6 315.0,194.0 315.3,193.3 315.3,192.1 315.5,191.5 315.5,190.8 315.6,190.0 315.8,188.9 315.8,187.9 315.8,187.5 316.1,186.9 316.3,185.4 316.3,184.6 316.6,183.6 317.0,183.5 316.8,182.5 317.1,181.9 316.8,180.7 317.4,180.2 317.4,179.1 317.5,178.0 317.5,177.4 317.9,177.0 317.9,176.4 317.9,175.5 318.4,174.6 319.0,173.5 318.7,172.7 319.2,171.7 319.1,171.1 319.2,170.6 319.1,169.9 319.1,168.8 318.4,168.1 318.9,167.0 320.0,165.8 319.7,165.0 320.0,164.2 319.8,163.4 320.3,162.6 320.4,162.3 320.7,161.3 320.8,160.5 320.9,159.6 321.9,158.2 322.7,157.3 322.4,156.8 322.2,156.6 322.7,155.7 322.8,154.5 322.2,153.6 322.3,153.2 323.0,151.9 322.9,151.4 322.9,150.5 323.1,149.9 323.3,148.7 323.9,148.2 323.5,147.3 323.7,146.9 324.2,146.1 324.3,145.0 324.3,144.4 324.9,143.2 324.5,142.1 324.6,141.7 324.9,140.4 325.2,139.7 324.9,138.9 325.5,138.3 325.9,137.4 325.7,136.4 326.4,135.4 326.3,134.8 326.5,133.8 327.1,133.1 327.5,132.3 327.7,132.1 327.9,130.8 328.1,129.4 328.6,129.4 328.6,128.4 328.6,127.8 328.7,126.9 329.2,126.3 329.7,125.5 329.9,123.8 329.9,122.9 330.1,122.3 329.9,121.5 329.9,120.7 329.9,119.9 330.3,119.1 330.4,117.5 330.3,117.5 329.8,116.5 329.8,116.0 330.5,115.2 330.6,114.1 331.0,113.5 331.1,112.6 331.1,111.5 330.9,110.5 331.3,110.0 331.6,109.6 331.6,108.7 331.4,107.4 332.5,107.0 332.6,106.1 332.7,105.6 333.3,104.6 333.1,103.5 333.2,102.8 333.8,102.7 334.3,101.5 334.1,100.9 333.7,100.4 334.1,99.7 333.6,98.8 333.6,97.7 334.0,96.4 334.0,95.8 334.4,95.2 334.6,94.5 335.0,94.0 335.5,92.9 334.8,92.1 335.3,91.4 335.5,90.2 335.0,89.5 334.9,88.6 335.3,87.8 335.3,87.3 336.0,86.7 336.7,85.8 337.4,85.0 338.2,84.6 338.6,83.8 338.7,82.5 339.8,81.7 339.9,81.3 340.6,80.7 340.8,79.8 341.0,79.1 341.1,78.6 341.1,78.2 340.9,77.4 341.6,76.7 342.5,75.6 342.1,74.8 342.1,73.7 342.5,72.8 343.0,71.9 342.7,71.6 342.8,71.0 343.1,69.7 343.3,69.0 343.2,68.4 343.3,67.4 342.9,66.7 342.9,66.0 343.0,65.1 342.4,64.4 343.4,63.2 342.9,62.4 343.2,61.5 343.6,61.0 343.9,59.6 343.9,58.6 344.1,58.0 344.3,57.1 344.1,56.0 343.8,55.2 344.2,54.3 344.7,53.6 344.3,53.1 344.3,52.1 344.5,51.4 344.9,50.6 345.3,50.1 346.0,49.0 345.7,48.4 346.4,47.8 347.3,47.0 348.3,47.5 349.2,46.3 348.9,45.7 348.8,45.1 349.5,44.0 350.9,43.6 350.7,42.8 350.0,42.2 349.7,41.3 350.1,40.7 350.6,40.2 351.0,39.4 351.3,38.9 351.6,37.1 351.4,36.4 350.7,35.6 350.8,34.8 351.7,34.0" fill="none" stroke="#ff2fe0" stroke-width="1.15" stroke-linejoin="round" clip-path="url(#cb)" />
<polyline points="303.6,228.4 303.8,227.7 304.0,226.8 304.2,226.0 304.4,225.0 304.6,224.3 304.8,223.5 305.0,222.7 305.2,222.0 305.4,221.1 305.6,220.4 306.0,219.8 306.4,219.0 306.7,218.3 307.1,217.5 307.5,216.7 307.9,215.9 308.2,215.2 308.6,214.5 309.0,213.8 309.3,212.9 309.6,212.0 309.9,211.3 310.3,210.6 310.6,209.9 310.9,209.0 311.2,208.1 311.3,207.2 311.5,206.4 311.6,205.7 311.7,205.1 311.8,204.2 312.0,203.3 312.1,202.5 312.2,201.5 312.4,200.9 312.5,200.2 312.6,199.3 312.7,198.5 312.9,197.6 313.0,196.8 313.1,196.0 313.2,195.2 313.3,194.5 313.5,193.6 313.6,192.9 313.7,192.0 313.8,191.1 313.9,190.4 314.0,189.6 314.1,188.8 314.3,188.1 314.4,187.3 314.5,186.4 314.6,185.6 314.8,184.9 315.0,184.0 315.2,183.2 315.3,182.5 315.5,181.6 315.7,180.8 315.9,180.0 316.0,179.2 316.1,178.3 316.2,177.5 316.3,176.8 316.5,176.0 316.6,175.3 316.7,174.4 316.8,173.8 316.9,172.8 317.0,172.0 317.1,171.3 317.2,170.5 317.4,169.7 317.5,169.0 317.6,168.0 317.7,167.3 317.8,166.5 317.9,165.7 317.9,165.0 318.0,164.1 318.1,163.3 318.2,162.4 318.3,161.7 318.4,160.8 318.4,160.0 318.5,159.2 318.6,158.5 318.7,157.7 318.8,156.7 318.9,155.9 318.9,155.2 319.0,154.4 319.1,153.6 319.2,152.7 319.3,151.9 319.4,151.2 319.4,150.4 319.5,149.4 319.6,148.8 319.6,148.0 319.7,147.2 319.7,146.3 319.8,145.4 319.8,144.5 319.8,143.8 319.9,143.0 319.9,142.2 320.0,141.4 320.0,140.7 320.0,139.8 320.1,139.0 320.1,138.2 320.1,137.3 320.2,136.4 320.2,135.6 320.3,134.8 320.3,134.0 320.3,133.2 320.4,132.4 320.4,131.8 320.5,130.9 320.5,130.2 320.5,129.3 320.6,128.4 320.6,127.5 320.6,126.6 320.6,125.8 320.7,124.9 320.7,124.2 320.7,123.2 320.7,122.4 320.8,121.5 320.8,120.6 320.8,119.9 320.8,119.0 320.9,118.2 320.9,117.4 320.9,116.6 321.0,115.8 321.0,114.9 321.0,114.0 321.1,113.1 321.1,112.3 321.1,111.5 321.1,110.7 321.2,109.9 321.2,109.2 321.2,108.4 321.3,107.6 321.3,106.7 321.3,106.0 321.4,105.1 321.4,104.2 321.4,103.5 321.4,102.9 321.5,102.0 321.5,101.1 321.5,100.4 321.6,99.5 321.6,98.6 321.7,97.8 321.7,97.2 321.8,96.3 321.8,95.4 321.9,94.8 321.9,93.9 321.9,93.0 322.0,92.2 322.1,91.3 322.1,90.5 322.1,89.6 322.2,88.9 322.2,88.0 322.3,87.2 322.3,86.4 322.4,85.5 322.5,84.8 322.7,83.9 322.8,83.2 322.9,82.4 323.0,81.6 323.2,80.8 323.3,80.3 323.4,79.3 323.5,78.5 323.6,77.5 323.7,76.8 323.8,76.0 323.9,75.0 324.0,74.3 324.1,73.5 324.2,72.6 324.2,71.8 324.3,71.0 324.4,70.2 324.5,69.5 324.6,68.6 324.7,67.6 324.8,66.9 324.9,66.0 325.0,65.3 325.1,64.5 325.2,63.6 325.3,62.7 325.4,62.0 325.5,61.1 325.6,60.3 325.7,59.5 325.7,58.6 325.8,58.0 325.9,57.2 326.0,56.5 326.1,55.5 326.2,54.8 326.3,54.1 326.4,53.1 326.5,52.3 326.6,51.5 326.6,50.7 326.7,49.9 326.8,49.2 326.9,48.4 327.0,47.6 327.1,46.8 327.2,46.0 327.3,45.2 327.3,44.5 327.4,43.7 327.5,42.8 327.6,42.0 327.7,41.1 327.8,40.3 327.8,39.5 327.9,38.8 328.0,38.0 328.1,37.1 328.2,36.2 328.2,35.5 328.3,34.8 328.4,34.0" fill="none" stroke="#222222" stroke-width="0.70" stroke-linejoin="round" clip-path="url(#cb)" />
<rect x="303.30" y="34.80" width="238.70" height="194.55" fill="none" stroke="#000" stroke-width="1.90"/>
<line x1="303.30" y1="213.15" x2="305.30" y2="213.15" stroke="#000" stroke-width="1.35"/>
<line x1="542.00" y1="213.15" x2="540.00" y2="213.15" stroke="#000" stroke-width="1.35"/>
<line x1="303.30" y1="197.00" x2="307.20" y2="197.00" stroke="#000" stroke-width="1.35"/>
<line x1="542.00" y1="197.00" x2="538.10" y2="197.00" stroke="#000" stroke-width="1.35"/>
<line x1="303.30" y1="180.85" x2="305.30" y2="180.85" stroke="#000" stroke-width="1.35"/>
<line x1="542.00" y1="180.85" x2="540.00" y2="180.85" stroke="#000" stroke-width="1.35"/>
<line x1="303.30" y1="164.70" x2="307.20" y2="164.70" stroke="#000" stroke-width="1.35"/>
<line x1="542.00" y1="164.70" x2="538.10" y2="164.70" stroke="#000" stroke-width="1.35"/>
<line x1="303.30" y1="148.55" x2="305.30" y2="148.55" stroke="#000" stroke-width="1.35"/>
<line x1="542.00" y1="148.55" x2="540.00" y2="148.55" stroke="#000" stroke-width="1.35"/>
<line x1="303.30" y1="132.40" x2="307.20" y2="132.40" stroke="#000" stroke-width="1.35"/>
<line x1="542.00" y1="132.40" x2="538.10" y2="132.40" stroke="#000" stroke-width="1.35"/>
<line x1="303.30" y1="116.25" x2="305.30" y2="116.25" stroke="#000" stroke-width="1.35"/>
<line x1="542.00" y1="116.25" x2="540.00" y2="116.25" stroke="#000" stroke-width="1.35"/>
<line x1="303.30" y1="100.10" x2="307.20" y2="100.10" stroke="#000" stroke-width="1.35"/>
<line x1="542.00" y1="100.10" x2="538.10" y2="100.10" stroke="#000" stroke-width="1.35"/>
<line x1="303.30" y1="83.95" x2="305.30" y2="83.95" stroke="#000" stroke-width="1.35"/>
<line x1="542.00" y1="83.95" x2="540.00" y2="83.95" stroke="#000" stroke-width="1.35"/>
<line x1="303.30" y1="67.80" x2="307.20" y2="67.80" stroke="#000" stroke-width="1.35"/>
<line x1="542.00" y1="67.80" x2="538.10" y2="67.80" stroke="#000" stroke-width="1.35"/>
<line x1="303.30" y1="51.65" x2="305.30" y2="51.65" stroke="#000" stroke-width="1.35"/>
<line x1="542.00" y1="51.65" x2="540.00" y2="51.65" stroke="#000" stroke-width="1.35"/>
<line x1="402.20" y1="229.35" x2="402.20" y2="225.75" stroke="#000" stroke-width="1.35"/>
<line x1="501.10" y1="229.35" x2="501.10" y2="225.75" stroke="#000" stroke-width="1.35"/>
<line x1="319.17" y1="34.80" x2="319.17" y2="37.00" stroke="#000" stroke-width="1.35"/>
<line x1="335.04" y1="34.80" x2="335.04" y2="38.40" stroke="#000" stroke-width="1.35"/>
<line x1="350.91" y1="34.80" x2="350.91" y2="37.00" stroke="#000" stroke-width="1.35"/>
<line x1="366.78" y1="34.80" x2="366.78" y2="38.40" stroke="#000" stroke-width="1.35"/>
<line x1="382.65" y1="34.80" x2="382.65" y2="37.00" stroke="#000" stroke-width="1.35"/>
<line x1="398.52" y1="34.80" x2="398.52" y2="38.40" stroke="#000" stroke-width="1.35"/>
<line x1="414.39" y1="34.80" x2="414.39" y2="37.00" stroke="#000" stroke-width="1.35"/>
<line x1="430.26" y1="34.80" x2="430.26" y2="38.40" stroke="#000" stroke-width="1.35"/>
<line x1="446.13" y1="34.80" x2="446.13" y2="37.00" stroke="#000" stroke-width="1.35"/>
<line x1="462.00" y1="34.80" x2="462.00" y2="38.40" stroke="#000" stroke-width="1.35"/>
<line x1="477.87" y1="34.80" x2="477.87" y2="37.00" stroke="#000" stroke-width="1.35"/>
<line x1="493.74" y1="34.80" x2="493.74" y2="38.40" stroke="#000" stroke-width="1.35"/>
<line x1="509.61" y1="34.80" x2="509.61" y2="37.00" stroke="#000" stroke-width="1.35"/>
<line x1="525.48" y1="34.80" x2="525.48" y2="38.40" stroke="#000" stroke-width="1.35"/>
<rect x="485.8" y="35.6" width="56.9" height="14.2" fill="#ff7f0e" fill-opacity="0.43"/>
<text x="492.6" y="47.2" font-size="12" text-anchor="start" font-family="Liberation Sans, sans-serif" fill="#85501f" letter-spacing="0.4" >&#981;=0.601</text>
<text x="298.4" y="235.3" font-size="12" text-anchor="end" font-family="Liberation Sans, sans-serif"  >0</text>
<text x="298.4" y="203.0" font-size="12" text-anchor="end" font-family="Liberation Sans, sans-serif"  >2</text>
<text x="298.4" y="170.3" font-size="12" text-anchor="end" font-family="Liberation Sans, sans-serif"  >4</text>
<text x="298.4" y="137.6" font-size="12" text-anchor="end" font-family="Liberation Sans, sans-serif"  >6</text>
<text x="298.4" y="105.5" font-size="12" text-anchor="end" font-family="Liberation Sans, sans-serif"  >8</text>
<text x="298.4" y="73.6" font-size="12" text-anchor="end" font-family="Liberation Sans, sans-serif"  >10</text>
<text x="298.4" y="40.2" font-size="12" text-anchor="end" font-family="Liberation Sans, sans-serif"  >12</text>
<text x="304.4" y="243.2" font-size="12" text-anchor="middle" font-family="Liberation Sans, sans-serif"  >0</text>
<text x="402.6" y="243.2" font-size="12" text-anchor="middle" font-family="Liberation Sans, sans-serif"  >500</text>
<text x="503.4" y="243.2" font-size="12" text-anchor="middle" font-family="Liberation Sans, sans-serif"  >1000</text>
<text x="304.4" y="29.3" font-size="12" text-anchor="middle" font-family="Liberation Sans, sans-serif"  >0</text>
<text x="335.9" y="29.3" font-size="12" text-anchor="middle" font-family="Liberation Sans, sans-serif"  >2</text>
<text x="367.4" y="29.3" font-size="12" text-anchor="middle" font-family="Liberation Sans, sans-serif"  >4</text>
<text x="398.9" y="29.3" font-size="12" text-anchor="middle" font-family="Liberation Sans, sans-serif"  >6</text>
<text x="430.5" y="29.3" font-size="12" text-anchor="middle" font-family="Liberation Sans, sans-serif"  >8</text>
<text x="462.0" y="29.3" font-size="12" text-anchor="middle" font-family="Liberation Sans, sans-serif"  >10</text>
<text x="493.5" y="29.3" font-size="12" text-anchor="middle" font-family="Liberation Sans, sans-serif"  >12</text>
<text x="525.0" y="29.3" font-size="12" text-anchor="middle" font-family="Liberation Sans, sans-serif"  >14</text>
<text x="389.8" y="13.2" font-size="12" font-family="Liberation Sans, sans-serif" font-style="italic">tD<tspan font-size="7" dy="3.4" dx="0.2">0</tspan><tspan dy="-3.4" dx="0.5">/d</tspan><tspan font-size="7" dy="-3.6" dx="0.2">2</tspan></text>
<text x="285.4" y="17.6" font-size="12" text-anchor="start" font-family="Liberation Sans, sans-serif"  >b)</text>
<text x="404.5" y="255.1" font-size="12" font-family="Liberation Sans, sans-serif"><tspan font-style="italic">t</tspan>(s)</text>
<line x1="381.5" y1="19.0" x2="381.5" y2="32.0" stroke="#ff7f0e" stroke-width="1.6"/>
<path d="M381.5 35.0 L377.5 27.8 L381.5 29.4 L385.5 27.8 Z" fill="#ff7f0e"/>
<rect x="643.90" y="58.06" width="15.48" height="169.99" fill="#1f77b4" stroke="#151515" stroke-width="0.9"/>
<rect x="659.38" y="125.93" width="15.48" height="102.12" fill="#1f77b4" stroke="#151515" stroke-width="0.9"/>
<rect x="674.86" y="193.79" width="15.48" height="34.26" fill="#1f77b4" stroke="#151515" stroke-width="0.9"/>
<rect x="690.34" y="125.93" width="15.48" height="102.12" fill="#1f77b4" stroke="#151515" stroke-width="0.9"/>
<rect x="705.82" y="125.93" width="15.48" height="102.12" fill="#1f77b4" stroke="#151515" stroke-width="0.9"/>
<rect x="721.30" y="125.93" width="15.48" height="102.12" fill="#1f77b4" stroke="#151515" stroke-width="0.9"/>
<rect x="752.26" y="193.79" width="15.48" height="34.26" fill="#1f77b4" stroke="#151515" stroke-width="0.9"/>
<rect x="597.46" y="163.42" width="15.48" height="64.63" fill="#ff7f0e" stroke="#151515" stroke-width="0.9"/>
<rect x="612.94" y="66.47" width="15.48" height="161.58" fill="#ff7f0e" stroke="#151515" stroke-width="0.9"/>
<rect x="628.42" y="195.73" width="15.48" height="32.32" fill="#ff7f0e" stroke="#151515" stroke-width="0.9"/>
<rect x="643.90" y="195.73" width="15.48" height="32.32" fill="#ff7f0e" stroke="#151515" stroke-width="0.9"/>
<rect x="674.86" y="211.89" width="15.48" height="16.16" fill="#ff7f0e" stroke="#151515" stroke-width="0.9"/>
<rect x="690.34" y="179.58" width="15.48" height="48.47" fill="#ff7f0e" stroke="#151515" stroke-width="0.9"/>
<rect x="705.82" y="179.58" width="15.48" height="48.47" fill="#ff7f0e" stroke="#151515" stroke-width="0.9"/>
<rect x="721.30" y="179.58" width="15.48" height="48.47" fill="#ff7f0e" stroke="#151515" stroke-width="0.9"/>
<rect x="736.78" y="195.73" width="15.48" height="32.32" fill="#ff7f0e" stroke="#151515" stroke-width="0.9"/>
<rect x="752.26" y="195.73" width="15.48" height="32.32" fill="#ff7f0e" stroke="#151515" stroke-width="0.9"/>
<rect x="814.18" y="98.78" width="15.12" height="129.27" fill="url(#hatch)" stroke="#1a1208" stroke-width="1.0"/>
<path d="M587.8 227.4 L598.0 227.3 L601.3 226.8 L602.9 222.0 L604.0 212.0 L605.0 195.0 L606.0 175.0 L607.0 156.0 L608.0 136.0 L609.0 122.0 L610.0 116.4 L611.0 117.0 L612.2 122.0 L613.7 131.0 L615.7 144.0 L618.2 158.0 L620.7 166.8 L623.2 172.4 L626.2 176.0 L629.8 177.6 L632.8 176.8 L635.0 174.6 L637.0 173.7 L639.5 174.6 L642.0 176.0 L644.5 176.3 L647.5 175.4 L651.0 174.9 L655.0 175.2 L660.0 175.7 L665.0 176.0 L670.0 176.4 L676.0 177.1 L682.0 177.9 L690.0 179.2 L700.0 181.3 L712.0 183.6 L724.0 186.3 L736.0 189.7 L748.0 193.4 L760.0 197.3 L772.0 201.1 L784.0 204.6 L797.0 208.2 L808.0 210.9 L820.0 213.6 L831.0 216.0" fill="none" stroke="#000" stroke-width="3" stroke-linejoin="round" stroke-linecap="round"/>
<line x1="799" y1="34.1" x2="799" y2="228.1" stroke="#000" stroke-width="1.7"/>
<line x1="791.8" y1="125.9" x2="806.2" y2="139.9" stroke="#000" stroke-width="1.3"/>
<line x1="791.3" y1="130.5" x2="805.6" y2="144.9" stroke="#000" stroke-width="1.3"/>
<rect x="589.75" y="34.15" width="239.55" height="193.90" fill="none" stroke="#000" stroke-width="1.80"/>
<line x1="589.75" y1="195.73" x2="593.35" y2="195.73" stroke="#000" stroke-width="1.35"/>
<line x1="589.75" y1="163.42" x2="593.35" y2="163.42" stroke="#000" stroke-width="1.35"/>
<line x1="589.75" y1="131.10" x2="593.35" y2="131.10" stroke="#000" stroke-width="1.35"/>
<line x1="589.75" y1="98.78" x2="593.35" y2="98.78" stroke="#000" stroke-width="1.35"/>
<line x1="589.75" y1="66.47" x2="593.35" y2="66.47" stroke="#000" stroke-width="1.35"/>
<line x1="589.75" y1="35.35" x2="593.35" y2="35.35" stroke="#000" stroke-width="1.35"/>
<line x1="605.20" y1="228.05" x2="605.20" y2="223.85" stroke="#000" stroke-width="1.50"/>
<line x1="636.16" y1="228.05" x2="636.16" y2="223.85" stroke="#000" stroke-width="1.50"/>
<line x1="667.12" y1="228.05" x2="667.12" y2="223.85" stroke="#000" stroke-width="1.50"/>
<line x1="698.08" y1="228.05" x2="698.08" y2="223.85" stroke="#000" stroke-width="1.50"/>
<line x1="729.04" y1="228.05" x2="729.04" y2="223.85" stroke="#000" stroke-width="1.50"/>
<line x1="760.00" y1="228.05" x2="760.00" y2="223.85" stroke="#000" stroke-width="1.50"/>
<line x1="790.96" y1="228.05" x2="790.96" y2="223.85" stroke="#000" stroke-width="1.50"/>
<line x1="821.92" y1="228.05" x2="821.92" y2="223.85" stroke="#000" stroke-width="1.50"/>
<text x="585.0" y="233.9" font-size="12.7" text-anchor="end" font-family="Liberation Sans, sans-serif"  >0.00</text>
<text x="585.0" y="201.5" font-size="12.7" text-anchor="end" font-family="Liberation Sans, sans-serif"  >0.05</text>
<text x="585.0" y="169.2" font-size="12.7" text-anchor="end" font-family="Liberation Sans, sans-serif"  >0.10</text>
<text x="585.0" y="136.9" font-size="12.7" text-anchor="end" font-family="Liberation Sans, sans-serif"  >0.15</text>
<text x="585.0" y="104.6" font-size="12.7" text-anchor="end" font-family="Liberation Sans, sans-serif"  >0.20</text>
<text x="585.0" y="72.3" font-size="12.7" text-anchor="end" font-family="Liberation Sans, sans-serif"  >0.25</text>
<text x="585.0" y="39.9" font-size="12.7" text-anchor="end" font-family="Liberation Sans, sans-serif"  >0.30</text>
<text x="605.1" y="243.0" font-size="12" text-anchor="middle" font-family="Liberation Sans, sans-serif"  >0</text>
<text x="636.4" y="243.0" font-size="12" text-anchor="middle" font-family="Liberation Sans, sans-serif"  >2</text>
<text x="666.9" y="243.0" font-size="12" text-anchor="middle" font-family="Liberation Sans, sans-serif"  >4</text>
<text x="697.9" y="243.0" font-size="12" text-anchor="middle" font-family="Liberation Sans, sans-serif"  >6</text>
<text x="728.6" y="243.0" font-size="12" text-anchor="middle" font-family="Liberation Sans, sans-serif"  >8</text>
<text x="758.6" y="243.0" font-size="12" text-anchor="middle" font-family="Liberation Sans, sans-serif"  >10</text>
<text x="790.1" y="243.0" font-size="12" text-anchor="middle" font-family="Liberation Sans, sans-serif"  >12</text>
<text x="820.8" y="243.0" font-size="12" text-anchor="middle" font-family="Liberation Sans, sans-serif"  >14</text>
<text x="549.6" y="17.6" font-size="12" text-anchor="start" font-family="Liberation Sans, sans-serif"  >c)</text>
<text x="703.5" y="262" font-size="12" font-family="Liberation Sans, sans-serif">&#916;<tspan font-style="italic">x</tspan>/<tspan font-style="italic">d</tspan></text>
<text transform="translate(556.0,122.9) rotate(-90) scale(1.08,1)" font-size="12" text-anchor="middle" font-family="Liberation Sans, sans-serif"><tspan font-style="italic">P</tspan>(&#916;<tspan font-style="italic">x</tspan>/<tspan font-style="italic">d</tspan>)</text>
<rect x="644.3" y="40.8" width="9.4" height="4.4" fill="#1f77b4" stroke="#222" stroke-width="0.6"/>
<text x="658.0" y="45.4" font-size="12.6" text-anchor="start" font-family="Liberation Sans, sans-serif"  >0.535</text>
<rect x="697.2" y="40.8" width="9.6" height="4.4" fill="#ff7f0e" stroke="#222" stroke-width="0.6"/>
<text x="711.3" y="45.4" font-size="12.4" text-anchor="start" font-family="Liberation Sans, sans-serif"  >0.601</text>
<line x1="747.5" y1="40.8" x2="756.7" y2="40.8" stroke="#000" stroke-width="2.4"/>
<text x="757.0" y="45.4" font-size="12.35" text-anchor="start" font-family="Liberation Sans, sans-serif"  >Theory</text>
</svg>
</body></html>
